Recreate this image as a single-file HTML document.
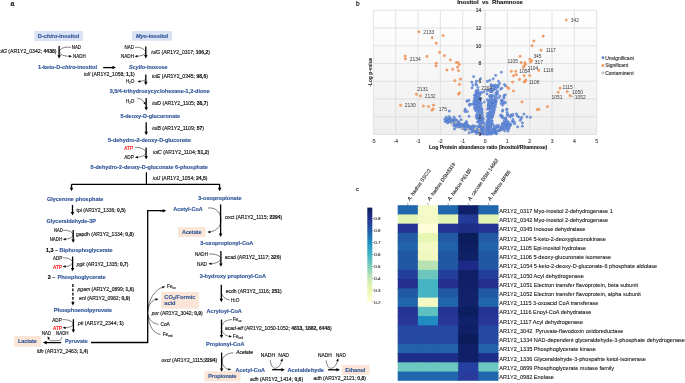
<!DOCTYPE html>
<html><head><meta charset="utf-8"><style>
html,body{margin:0;padding:0;background:#fff;width:685px;height:383px;overflow:hidden}
svg{display:block;font-family:"Liberation Sans",sans-serif;will-change:transform}
</style></head><body>
<svg width="685" height="383" viewBox="0 0 685 383" font-family="Liberation Sans, sans-serif"><text x="10.60" y="6.00" font-size="7.00" fill="#222" stroke="#222" stroke-width="0.14" text-anchor="start"><tspan font-weight="bold">a</tspan></text>
<rect x="34.40" y="31.00" width="48.50" height="10.00" fill="#dae3f3"/>
<rect x="132.00" y="31.00" width="40.00" height="9.70" fill="#dae3f3"/>
<rect x="14.20" y="336.00" width="26.90" height="10.80" fill="#fbe5d6"/>
<rect x="178.10" y="227.10" width="27.40" height="9.90" fill="#fbe5d6"/>
<rect x="161.20" y="291.80" width="37.60" height="16.90" fill="#fbe5d6"/>
<rect x="204.50" y="371.20" width="36.20" height="10.20" fill="#fbe5d6"/>
<rect x="341.80" y="364.80" width="27.70" height="10.00" fill="#fbe5d6"/>
<text x="37.80" y="37.85" font-size="5.60" fill="#2f5597" stroke="#2f5597" stroke-width="0.14" text-anchor="start" textLength="41.40" lengthAdjust="spacingAndGlyphs"><tspan font-weight="bold">D-</tspan><tspan font-weight="bold" font-style="italic">chiro</tspan><tspan font-weight="bold">-inositol</tspan></text>
<text x="136.00" y="37.80" font-size="5.45" fill="#2f5597" stroke="#2f5597" stroke-width="0.14" text-anchor="start" textLength="32.10" lengthAdjust="spacingAndGlyphs"><tspan font-weight="bold" font-style="italic">Myo</tspan><tspan font-weight="bold">-inositol</tspan></text>
<text x="38.10" y="69.22" font-size="5.52" fill="#2f5597" stroke="#2f5597" stroke-width="0.14" text-anchor="start" textLength="58.90" lengthAdjust="spacingAndGlyphs"><tspan font-weight="bold">1-keto-D-</tspan><tspan font-weight="bold" font-style="italic">chiro</tspan><tspan font-weight="bold">-inositol</tspan></text>
<text x="129.00" y="69.00" font-size="5.47" fill="#2f5597" stroke="#2f5597" stroke-width="0.14" text-anchor="start" textLength="38.60" lengthAdjust="spacingAndGlyphs"><tspan font-weight="bold" font-style="italic">Scyllo</tspan><tspan font-weight="bold">-inosose</tspan></text>
<text x="109.70" y="92.82" font-size="5.51" fill="#2f5597" stroke="#2f5597" stroke-width="0.14" text-anchor="start" textLength="100.10" lengthAdjust="spacingAndGlyphs"><tspan font-weight="bold">3,5/4-trihydroxycyclohexane-1,2-dione</tspan></text>
<text x="120.40" y="117.81" font-size="5.48" fill="#2f5597" stroke="#2f5597" stroke-width="0.14" text-anchor="start" textLength="59.70" lengthAdjust="spacingAndGlyphs"><tspan font-weight="bold">5-deoxy-D-glucuronate</tspan></text>
<text x="108.00" y="142.02" font-size="5.51" fill="#2f5597" stroke="#2f5597" stroke-width="0.14" text-anchor="start" textLength="83.00" lengthAdjust="spacingAndGlyphs"><tspan font-weight="bold">5-dehydro-2-deoxy-D-gluconate</tspan></text>
<text x="90.60" y="168.62" font-size="5.51" fill="#2f5597" stroke="#2f5597" stroke-width="0.14" text-anchor="start" textLength="117.30" lengthAdjust="spacingAndGlyphs"><tspan font-weight="bold">5-dehydro-2-deoxy-D-gluconate 6-phosphate</tspan></text>
<text x="46.90" y="200.52" font-size="5.53" fill="#2f5597" stroke="#2f5597" stroke-width="0.14" text-anchor="start" textLength="56.50" lengthAdjust="spacingAndGlyphs"><tspan font-weight="bold">Glycerone phosphate</tspan></text>
<text x="46.50" y="223.01" font-size="5.49" fill="#2f5597" stroke="#2f5597" stroke-width="0.14" text-anchor="start" textLength="49.40" lengthAdjust="spacingAndGlyphs"><tspan font-weight="bold">Glyceraldehyde-3P</tspan></text>
<text x="46.00" y="251.58" font-size="5.40" fill="#000" stroke="#000" stroke-width="0.14" text-anchor="start"><tspan font-weight="bold">1,3 –</tspan></text>
<text x="59.60" y="251.62" font-size="5.51" fill="#2f5597" stroke="#2f5597" stroke-width="0.14" text-anchor="start" textLength="53.00" lengthAdjust="spacingAndGlyphs"><tspan font-weight="bold">Biphosphoglycerate</tspan></text>
<text x="47.80" y="278.98" font-size="5.40" fill="#000" stroke="#000" stroke-width="0.14" text-anchor="start"><tspan font-weight="bold">3 –</tspan></text>
<text x="57.50" y="279.03" font-size="5.54" fill="#2f5597" stroke="#2f5597" stroke-width="0.14" text-anchor="start" textLength="48.00" lengthAdjust="spacingAndGlyphs"><tspan font-weight="bold">Phosphoglycerate</tspan></text>
<text x="53.80" y="311.83" font-size="5.55" fill="#2f5597" stroke="#2f5597" stroke-width="0.14" text-anchor="start" textLength="58.30" lengthAdjust="spacingAndGlyphs"><tspan font-weight="bold">Phosphoenolpyruvate</tspan></text>
<text x="17.90" y="343.39" font-size="5.43" fill="#2f5597" stroke="#2f5597" stroke-width="0.14" text-anchor="start" textLength="19.00" lengthAdjust="spacingAndGlyphs"><tspan font-weight="bold">Lactate</tspan></text>
<text x="64.90" y="343.29" font-size="5.42" fill="#2f5597" stroke="#2f5597" stroke-width="0.14" text-anchor="start" textLength="22.90" lengthAdjust="spacingAndGlyphs"><tspan font-weight="bold">Pyruvate</tspan></text>
<text x="173.20" y="210.91" font-size="5.47" fill="#2f5597" stroke="#2f5597" stroke-width="0.14" text-anchor="start" textLength="29.50" lengthAdjust="spacingAndGlyphs"><tspan font-weight="bold">Acetyl-CoA</tspan></text>
<text x="198.20" y="199.63" font-size="5.54" fill="#2f5597" stroke="#2f5597" stroke-width="0.14" text-anchor="start" textLength="43.40" lengthAdjust="spacingAndGlyphs"><tspan font-weight="bold">3-oxopropionate</tspan></text>
<text x="182.00" y="233.77" font-size="5.37" fill="#2f5597" stroke="#2f5597" stroke-width="0.14" text-anchor="start" textLength="19.40" lengthAdjust="spacingAndGlyphs"><tspan font-weight="bold">Acetate</tspan></text>
<text x="200.30" y="244.82" font-size="5.51" fill="#2f5597" stroke="#2f5597" stroke-width="0.14" text-anchor="start" textLength="53.00" lengthAdjust="spacingAndGlyphs"><tspan font-weight="bold">3-oxopropionyl-CoA</tspan></text>
<text x="199.70" y="278.22" font-size="5.52" fill="#2f5597" stroke="#2f5597" stroke-width="0.14" text-anchor="start" textLength="66.30" lengthAdjust="spacingAndGlyphs"><tspan font-weight="bold">3-hydroxy propionyl-CoA</tspan></text>
<text x="164.3" y="298.9" font-size="5.7" font-weight="bold" fill="#2f5597" stroke="#2f5597" stroke-width="0.12">CO<tspan font-size="3.8" dy="0.9">2</tspan><tspan dy="-0.9">/Formic</tspan></text>
<text x="164.30" y="305.15" font-size="5.60" fill="#2f5597" stroke="#2f5597" stroke-width="0.14" text-anchor="start"><tspan font-weight="bold">acid</tspan></text>
<text x="206.50" y="312.84" font-size="5.59" fill="#2f5597" stroke="#2f5597" stroke-width="0.14" text-anchor="start" textLength="35.40" lengthAdjust="spacingAndGlyphs"><tspan font-weight="bold">Acryloyl-CoA</tspan></text>
<text x="206.00" y="346.41" font-size="5.49" fill="#2f5597" stroke="#2f5597" stroke-width="0.14" text-anchor="start" textLength="38.40" lengthAdjust="spacingAndGlyphs"><tspan font-weight="bold">Propionyl-CoA</tspan></text>
<text x="208.20" y="378.19" font-size="5.44" fill="#2f5597" stroke="#2f5597" stroke-width="0.14" text-anchor="start" textLength="28.40" lengthAdjust="spacingAndGlyphs"><tspan font-weight="bold">Propionate</tspan></text>
<text x="235.60" y="371.60" font-size="5.45" fill="#2f5597" stroke="#2f5597" stroke-width="0.14" text-anchor="start" textLength="29.40" lengthAdjust="spacingAndGlyphs"><tspan font-weight="bold">Acetyl-CoA</tspan></text>
<text x="287.50" y="371.85" font-size="5.61" fill="#2f5597" stroke="#2f5597" stroke-width="0.14" text-anchor="start" textLength="36.50" lengthAdjust="spacingAndGlyphs"><tspan font-weight="bold">Acetaldehyde</tspan></text>
<text x="345.30" y="371.91" font-size="5.48" fill="#2f5597" stroke="#2f5597" stroke-width="0.14" text-anchor="start" textLength="20.10" lengthAdjust="spacingAndGlyphs"><tspan font-weight="bold">Ethanol</tspan></text>
<text x="-2.20" y="53.29" font-size="5.13" fill="#111" stroke="#111" stroke-width="0.14" text-anchor="start" textLength="58.80" lengthAdjust="spacingAndGlyphs"><tspan font-style="italic">iolG</tspan><tspan> (AR1Y2_0342; </tspan><tspan font-weight="bold">4438</tspan><tspan>)</tspan></text>
<text x="151.30" y="53.65" font-size="5.00" fill="#111" stroke="#111" stroke-width="0.14" text-anchor="start" textLength="58.70" lengthAdjust="spacingAndGlyphs"><tspan font-style="italic">iolG</tspan><tspan> (AR1Y2_0317; </tspan><tspan font-weight="bold">106,2</tspan><tspan>)</tspan></text>
<text x="83.90" y="76.26" font-size="5.03" fill="#111" stroke="#111" stroke-width="0.14" text-anchor="start" textLength="50.90" lengthAdjust="spacingAndGlyphs"><tspan font-style="italic">iolI</tspan><tspan> (AR1Y2_1058; </tspan><tspan font-weight="bold">1,1</tspan><tspan>)</tspan></text>
<text x="152.00" y="78.17" font-size="5.06" fill="#111" stroke="#111" stroke-width="0.14" text-anchor="start" textLength="56.00" lengthAdjust="spacingAndGlyphs"><tspan font-style="italic">iolE</tspan><tspan> (AR1Y2_0345; </tspan><tspan font-weight="bold">98,6</tspan><tspan>)</tspan></text>
<text x="152.30" y="104.57" font-size="5.07" fill="#111" stroke="#111" stroke-width="0.14" text-anchor="start" textLength="56.00" lengthAdjust="spacingAndGlyphs"><tspan font-style="italic">iolD</tspan><tspan> (AR1Y2_1105; </tspan><tspan font-weight="bold">38,7</tspan><tspan>)</tspan></text>
<text x="152.30" y="129.88" font-size="5.09" fill="#111" stroke="#111" stroke-width="0.14" text-anchor="start" textLength="51.70" lengthAdjust="spacingAndGlyphs"><tspan font-style="italic">iolB</tspan><tspan> (AR1Y2_1109; </tspan><tspan font-weight="bold">57</tspan><tspan>)</tspan></text>
<text x="153.00" y="153.88" font-size="5.09" fill="#111" stroke="#111" stroke-width="0.14" text-anchor="start" textLength="56.20" lengthAdjust="spacingAndGlyphs"><tspan font-style="italic">iolC</tspan><tspan> (AR1Y2_1104; </tspan><tspan font-weight="bold">51,2</tspan><tspan>)</tspan></text>
<text x="152.80" y="180.15" font-size="5.01" fill="#111" stroke="#111" stroke-width="0.14" text-anchor="start" textLength="54.60" lengthAdjust="spacingAndGlyphs"><tspan font-style="italic">iolJ</tspan><tspan> (AR1Y2_1054; </tspan><tspan font-weight="bold">24,5</tspan><tspan>)</tspan></text>
<text x="76.60" y="211.63" font-size="4.95" fill="#111" stroke="#111" stroke-width="0.14" text-anchor="start" textLength="49.00" lengthAdjust="spacingAndGlyphs"><tspan>tpi</tspan><tspan> (AR1Y2_1336; </tspan><tspan font-weight="bold">0,5</tspan><tspan>)</tspan></text>
<text x="76.00" y="236.05" font-size="4.99" fill="#111" stroke="#111" stroke-width="0.14" text-anchor="start" textLength="58.00" lengthAdjust="spacingAndGlyphs"><tspan>gapdh</tspan><tspan> (AR1Y2_1334; </tspan><tspan font-weight="bold">0,8</tspan><tspan>)</tspan></text>
<text x="76.80" y="266.43" font-size="4.95" fill="#111" stroke="#111" stroke-width="0.14" text-anchor="start" textLength="51.70" lengthAdjust="spacingAndGlyphs"><tspan font-style="italic">pgk</tspan><tspan> (AR1Y2_1335; </tspan><tspan font-weight="bold">0,7</tspan><tspan>)</tspan></text>
<text x="77.60" y="290.95" font-size="4.99" fill="#111" stroke="#111" stroke-width="0.14" text-anchor="start" textLength="56.60" lengthAdjust="spacingAndGlyphs"><tspan font-style="italic">pgam</tspan><tspan> (AR1Y2_0899; </tspan><tspan font-weight="bold">1,6</tspan><tspan>)</tspan></text>
<text x="79.10" y="299.85" font-size="5.01" fill="#111" stroke="#111" stroke-width="0.14" text-anchor="start" textLength="51.00" lengthAdjust="spacingAndGlyphs"><tspan font-style="italic">enl</tspan><tspan> (AR1Y2_0982; </tspan><tspan font-weight="bold">0,9</tspan><tspan>)</tspan></text>
<text x="78.10" y="324.66" font-size="5.04" fill="#111" stroke="#111" stroke-width="0.14" text-anchor="start" textLength="45.70" lengthAdjust="spacingAndGlyphs"><tspan font-style="italic">pk</tspan><tspan> (AR1Y2_2344; </tspan><tspan font-weight="bold">1</tspan><tspan>)</tspan></text>
<text x="36.90" y="352.66" font-size="5.04" fill="#111" stroke="#111" stroke-width="0.14" text-anchor="start" textLength="51.30" lengthAdjust="spacingAndGlyphs"><tspan font-style="italic">ldh</tspan><tspan> (AR1Y2_2463; </tspan><tspan font-weight="bold">1,4</tspan><tspan>)</tspan></text>
<text x="225.10" y="218.86" font-size="5.04" fill="#111" stroke="#111" stroke-width="0.14" text-anchor="start" textLength="57.20" lengthAdjust="spacingAndGlyphs"><tspan>oxct</tspan><tspan> (AR1Y2_1115; </tspan><tspan font-weight="bold">2294</tspan><tspan>)</tspan></text>
<text x="224.80" y="258.87" font-size="5.06" fill="#111" stroke="#111" stroke-width="0.14" text-anchor="start" textLength="56.40" lengthAdjust="spacingAndGlyphs"><tspan>acad</tspan><tspan> (AR1Y2_1117; </tspan><tspan font-weight="bold">320</tspan><tspan>)</tspan></text>
<text x="225.70" y="293.36" font-size="5.03" fill="#111" stroke="#111" stroke-width="0.14" text-anchor="start" textLength="56.00" lengthAdjust="spacingAndGlyphs"><tspan>ecdh</tspan><tspan> (AR1Y2_1116; </tspan><tspan font-weight="bold">251</tspan><tspan>)</tspan></text>
<text x="151.80" y="315.03" font-size="4.95" fill="#111" stroke="#111" stroke-width="0.14" text-anchor="start" textLength="50.90" lengthAdjust="spacingAndGlyphs"><tspan font-style="italic">por</tspan><tspan> (AR1Y2_3042; </tspan><tspan font-weight="bold">0,9</tspan><tspan>)</tspan></text>
<text x="224.90" y="330.05" font-size="4.99" fill="#111" stroke="#111" stroke-width="0.14" text-anchor="start" textLength="106.90" lengthAdjust="spacingAndGlyphs"><tspan font-style="italic">acad-etf</tspan><tspan> (AR1Y2_1050-1052; </tspan><tspan font-weight="bold">4813, 1882, 6448</tspan><tspan>)</tspan></text>
<text x="161.50" y="362.36" font-size="5.03" fill="#111" stroke="#111" stroke-width="0.14" text-anchor="start" textLength="55.70" lengthAdjust="spacingAndGlyphs"><tspan font-style="italic">oxct</tspan><tspan> (AR1Y2_1115;</tspan><tspan font-weight="bold">2294</tspan><tspan>)</tspan></text>
<text x="250.10" y="381.16" font-size="5.04" fill="#111" stroke="#111" stroke-width="0.14" text-anchor="start" textLength="53.00" lengthAdjust="spacingAndGlyphs"><tspan font-style="italic">adh</tspan><tspan> (AR1Y2_1414; </tspan><tspan font-weight="bold">0,6</tspan><tspan>)</tspan></text>
<text x="313.40" y="379.65" font-size="5.01" fill="#111" stroke="#111" stroke-width="0.14" text-anchor="start" textLength="52.60" lengthAdjust="spacingAndGlyphs"><tspan font-style="italic">adh</tspan><tspan> (AR1Y2_2121; </tspan><tspan font-weight="bold">0,8</tspan><tspan>)</tspan></text>
<text x="71.80" y="49.12" font-size="4.90" fill="#111" stroke="#111" stroke-width="0.14" text-anchor="start" textLength="9.20" lengthAdjust="spacingAndGlyphs"><tspan>NAD</tspan></text>
<text x="73.00" y="58.02" font-size="4.90" fill="#111" stroke="#111" stroke-width="0.14" text-anchor="start" textLength="12.60" lengthAdjust="spacingAndGlyphs"><tspan>NADH</tspan></text>
<text x="124.60" y="49.12" font-size="4.90" fill="#111" stroke="#111" stroke-width="0.14" text-anchor="start" textLength="9.40" lengthAdjust="spacingAndGlyphs"><tspan>NAD</tspan></text>
<text x="121.00" y="58.02" font-size="4.90" fill="#111" stroke="#111" stroke-width="0.14" text-anchor="start" textLength="13.00" lengthAdjust="spacingAndGlyphs"><tspan>NADH</tspan></text>
<text x="125.70" y="82.70" font-size="4.7" fill="#111" stroke="#111" stroke-width="0.12">H<tspan font-size="3.0" dy="0.9">2</tspan><tspan dy="-0.9">O</tspan></text>
<text x="125.80" y="102.80" font-size="4.7" fill="#111" stroke="#111" stroke-width="0.12">H<tspan font-size="3.0" dy="0.9">2</tspan><tspan dy="-0.9">O</tspan></text>
<text x="230.70" y="301.50" font-size="4.7" fill="#111" stroke="#111" stroke-width="0.12">H<tspan font-size="3.0" dy="0.9">2</tspan><tspan dy="-0.9">O</tspan></text>
<text x="124.20" y="149.72" font-size="4.90" fill="#ff0000" stroke="#ff0000" stroke-width="0.14" text-anchor="start" textLength="8.90" lengthAdjust="spacingAndGlyphs"><tspan>ATP</tspan></text>
<text x="124.20" y="158.62" font-size="4.90" fill="#111" stroke="#111" stroke-width="0.14" text-anchor="start" textLength="9.70" lengthAdjust="spacingAndGlyphs"><tspan>ADP</tspan></text>
<text x="54.10" y="232.12" font-size="4.90" fill="#111" stroke="#111" stroke-width="0.14" text-anchor="start" textLength="8.70" lengthAdjust="spacingAndGlyphs"><tspan>NAD</tspan></text>
<text x="49.70" y="240.91" font-size="4.90" fill="#111" stroke="#111" stroke-width="0.14" text-anchor="start" textLength="12.50" lengthAdjust="spacingAndGlyphs"><tspan>NADH</tspan></text>
<text x="53.00" y="260.11" font-size="4.90" fill="#111" stroke="#111" stroke-width="0.14" text-anchor="start" textLength="9.10" lengthAdjust="spacingAndGlyphs"><tspan>ADP</tspan></text>
<text x="53.00" y="268.91" font-size="4.90" fill="#ff0000" stroke="#ff0000" stroke-width="0.14" text-anchor="start" textLength="9.10" lengthAdjust="spacingAndGlyphs"><tspan>ATP</tspan></text>
<text x="52.20" y="321.81" font-size="4.90" fill="#111" stroke="#111" stroke-width="0.14" text-anchor="start" textLength="9.70" lengthAdjust="spacingAndGlyphs"><tspan>ADP</tspan></text>
<text x="53.00" y="329.81" font-size="4.90" fill="#ff0000" stroke="#ff0000" stroke-width="0.14" text-anchor="start" textLength="9.10" lengthAdjust="spacingAndGlyphs"><tspan>ATP</tspan></text>
<text x="41.90" y="335.11" font-size="4.90" fill="#111" stroke="#111" stroke-width="0.14" text-anchor="start" textLength="9.10" lengthAdjust="spacingAndGlyphs"><tspan>NAD</tspan></text>
<text x="56.00" y="335.11" font-size="4.90" fill="#111" stroke="#111" stroke-width="0.14" text-anchor="start" textLength="12.50" lengthAdjust="spacingAndGlyphs"><tspan>NADH</tspan></text>
<text x="195.00" y="255.81" font-size="4.90" fill="#111" stroke="#111" stroke-width="0.14" text-anchor="start" textLength="13.00" lengthAdjust="spacingAndGlyphs"><tspan>NADH</tspan></text>
<text x="197.00" y="265.51" font-size="4.90" fill="#111" stroke="#111" stroke-width="0.14" text-anchor="start" textLength="10.00" lengthAdjust="spacingAndGlyphs"><tspan>NAD</tspan></text>
<text x="232.70" y="321.30" font-size="4.8" fill="#111" stroke="#111" stroke-width="0.12">Fe<tspan font-size="2.9" dy="1">ox</tspan></text>
<text x="233.00" y="338.10" font-size="4.8" fill="#111" stroke="#111" stroke-width="0.12">Fe<tspan font-size="2.9" dy="1">red</tspan></text>
<text x="167.00" y="288.00" font-size="4.8" fill="#111" stroke="#111" stroke-width="0.12">Fe<tspan font-size="2.9" dy="1">ox</tspan></text>
<text x="162.70" y="336.10" font-size="4.8" fill="#111" stroke="#111" stroke-width="0.12">Fe<tspan font-size="2.9" dy="1">red</tspan></text>
<text x="160.40" y="325.91" font-size="4.90" fill="#111" stroke="#111" stroke-width="0.14" text-anchor="start" textLength="9.40" lengthAdjust="spacingAndGlyphs"><tspan>CoA</tspan></text>
<text x="236.20" y="354.37" font-size="4.92" fill="#111" stroke="#111" stroke-width="0.14" text-anchor="start" textLength="16.70" lengthAdjust="spacingAndGlyphs"><tspan font-style="italic">Acetate</tspan></text>
<text x="260.80" y="357.01" font-size="4.90" fill="#111" stroke="#111" stroke-width="0.14" text-anchor="start" textLength="14.20" lengthAdjust="spacingAndGlyphs"><tspan>NADH</tspan></text>
<text x="278.20" y="356.51" font-size="4.90" fill="#111" stroke="#111" stroke-width="0.14" text-anchor="start" textLength="10.90" lengthAdjust="spacingAndGlyphs"><tspan>NAD</tspan></text>
<text x="318.10" y="356.91" font-size="4.90" fill="#111" stroke="#111" stroke-width="0.14" text-anchor="start" textLength="13.70" lengthAdjust="spacingAndGlyphs"><tspan>NADH</tspan></text>
<text x="336.00" y="356.91" font-size="4.90" fill="#111" stroke="#111" stroke-width="0.14" text-anchor="start" textLength="9.80" lengthAdjust="spacingAndGlyphs"><tspan>NAD</tspan></text>
<line x1="59.10" y1="46.00" x2="59.10" y2="55.70" stroke="#000" stroke-width="1.30"/>
<path d="M57.35 55.20 L60.85 55.20 L59.10 58.60 Z" fill="#000"/>
<line x1="145.80" y1="46.50" x2="145.80" y2="55.50" stroke="#000" stroke-width="1.30"/>
<path d="M144.05 55.00 L147.55 55.00 L145.80 58.40 Z" fill="#000"/>
<line x1="145.80" y1="74.60" x2="145.80" y2="82.30" stroke="#000" stroke-width="1.30"/>
<path d="M144.05 81.80 L147.55 81.80 L145.80 85.20 Z" fill="#000"/>
<line x1="146.20" y1="98.10" x2="146.20" y2="107.70" stroke="#000" stroke-width="1.30"/>
<path d="M144.45 107.20 L147.95 107.20 L146.20 110.60 Z" fill="#000"/>
<line x1="146.20" y1="122.30" x2="146.20" y2="132.30" stroke="#000" stroke-width="1.30"/>
<path d="M144.45 131.80 L147.95 131.80 L146.20 135.20 Z" fill="#000"/>
<line x1="146.10" y1="147.50" x2="146.10" y2="156.60" stroke="#000" stroke-width="1.30"/>
<path d="M144.35 156.10 L147.85 156.10 L146.10 159.50 Z" fill="#000"/>
<line x1="146.40" y1="172.20" x2="146.40" y2="184.30" stroke="#000" stroke-width="1.20"/>
<line x1="71.50" y1="184.30" x2="219.60" y2="184.30" stroke="#000" stroke-width="1.30"/>
<line x1="71.50" y1="184.30" x2="71.50" y2="188.30" stroke="#000" stroke-width="1.30"/>
<path d="M69.75 187.80 L73.25 187.80 L71.50 191.20 Z" fill="#000"/>
<line x1="219.60" y1="184.30" x2="219.60" y2="188.30" stroke="#000" stroke-width="1.30"/>
<path d="M217.85 187.80 L221.35 187.80 L219.60 191.20 Z" fill="#000"/>
<line x1="103.20" y1="67.60" x2="113.00" y2="67.60" stroke="#000" stroke-width="1.30"/>
<path d="M112.50 65.85 L112.50 69.35 L115.90 67.60 Z" fill="#000"/>
<line x1="72.50" y1="205.10" x2="72.50" y2="212.50" stroke="#000" stroke-width="1.30"/>
<path d="M70.75 212.00 L74.25 212.00 L72.50 215.40 Z" fill="#000"/>
<line x1="73.20" y1="229.90" x2="73.20" y2="239.90" stroke="#000" stroke-width="1.30"/>
<path d="M71.45 239.40 L74.95 239.40 L73.20 242.80 Z" fill="#000"/>
<line x1="72.60" y1="256.50" x2="72.60" y2="268.40" stroke="#000" stroke-width="1.30"/>
<path d="M70.85 267.90 L74.35 267.90 L72.60 271.30 Z" fill="#000"/>
<line x1="72.90" y1="284.10" x2="72.90" y2="302.70" stroke="#000" stroke-width="1.30" stroke-dasharray="2.8,1.5"/>
<path d="M71.15 302.20 L74.65 302.20 L72.90 305.60 Z" fill="#000"/>
<line x1="73.40" y1="319.20" x2="73.40" y2="329.90" stroke="#000" stroke-width="1.30"/>
<path d="M71.65 329.40 L75.15 329.40 L73.40 332.80 Z" fill="#000"/>
<line x1="61.20" y1="342.60" x2="46.10" y2="342.60" stroke="#000" stroke-width="1.30"/>
<path d="M46.60 340.70 L46.60 344.50 L43.00 342.60 Z" fill="#000"/>
<path d="M91 342.5 L147.7 342.5 L147.7 210.7 L163 210.7" fill="none" stroke="#000" stroke-width="1.3"/>
<line x1="160.00" y1="210.70" x2="163.30" y2="210.70" stroke="#000" stroke-width="1.30"/>
<path d="M162.80 208.95 L162.80 212.45 L166.20 210.70 Z" fill="#000"/>
<line x1="220.60" y1="204.40" x2="220.60" y2="234.10" stroke="#000" stroke-width="1.30"/>
<path d="M218.85 233.60 L222.35 233.60 L220.60 237.00 Z" fill="#000"/>
<line x1="220.90" y1="251.00" x2="220.90" y2="263.90" stroke="#000" stroke-width="1.30"/>
<path d="M219.15 263.40 L222.65 263.40 L220.90 266.80 Z" fill="#000"/>
<line x1="221.30" y1="284.70" x2="221.30" y2="299.30" stroke="#000" stroke-width="1.30"/>
<path d="M219.55 298.80 L223.05 298.80 L221.30 302.20 Z" fill="#000"/>
<line x1="221.50" y1="319.60" x2="221.50" y2="335.40" stroke="#000" stroke-width="1.30"/>
<path d="M219.75 334.90 L223.25 334.90 L221.50 338.30 Z" fill="#000"/>
<line x1="221.60" y1="352.60" x2="221.60" y2="368.90" stroke="#000" stroke-width="1.30"/>
<path d="M219.85 368.40 L223.35 368.40 L221.60 371.80 Z" fill="#000"/>
<line x1="272.10" y1="369.70" x2="281.90" y2="369.70" stroke="#000" stroke-width="1.30"/>
<path d="M281.40 367.95 L281.40 371.45 L284.80 369.70 Z" fill="#000"/>
<line x1="328.00" y1="369.80" x2="337.00" y2="369.80" stroke="#000" stroke-width="1.30"/>
<path d="M336.50 368.05 L336.50 371.55 L339.90 369.80 Z" fill="#000"/>
<path d="M71 47.4 C63 46 58 50 59.5 53 C61 55.5 66 56.3 70.5 56.3" fill="none" stroke="#000" stroke-width="0.50"/>
<path d="M72.00 56.30 L69.00 57.50 L69.00 55.10 Z" fill="#000"/>
<path d="M135 47.4 C141 46.5 146 50 145.5 52.5 C145 55 140 56.3 136 56.3" fill="none" stroke="#000" stroke-width="0.50"/>
<path d="M134.50 56.30 L137.50 55.10 L137.50 57.50 Z" fill="#000"/>
<path d="M145.6 79.5 C143.5 81 141.5 81.3 139.2 81.4" fill="none" stroke="#000" stroke-width="0.50"/>
<path d="M137.40 81.50 L140.40 80.30 L140.40 82.70 Z" fill="#000"/>
<path d="M137.3 98.1 C141 98.5 143.8 101 145 103.4" fill="none" stroke="#000" stroke-width="0.50"/>
<path d="M145.70 105.10 L143.34 102.89 L145.52 101.87 Z" fill="#000"/>
<path d="M135.2 147.3 C141 147 145.8 150 145.8 152.5 C145.8 155.5 141 157.2 136.8 157.2" fill="none" stroke="#000" stroke-width="0.50"/>
<path d="M134.90 157.20 L137.90 156.00 L137.90 158.40 Z" fill="#000"/>
<path d="M63.2 230.3 C69.5 230 73 232.5 73 234.8 C73 237.5 69 239.2 64.6 239.2" fill="none" stroke="#000" stroke-width="0.50"/>
<path d="M62.80 239.20 L65.80 238.00 L65.80 240.40 Z" fill="#000"/>
<path d="M62.6 257.8 C68.5 257.5 72.5 260 72.5 262.2 C72.5 264.8 69 266.5 64.5 266.5" fill="none" stroke="#000" stroke-width="0.50"/>
<path d="M62.60 266.50 L65.60 265.30 L65.60 267.70 Z" fill="#000"/>
<path d="M62.6 319.6 C68.5 319.4 73.2 321.8 73.2 323.8 C73.2 326.2 69 327.8 64.5 327.8" fill="none" stroke="#000" stroke-width="0.50"/>
<path d="M62.60 327.80 L65.60 326.60 L65.60 329.00 Z" fill="#000"/>
<path d="M61.8 337.2 C61.6 339.6 60.5 340.7 57.5 340.7 L51.5 340.7 C49.8 340.7 48.9 339.8 48.6 338.8" fill="none" stroke="#000" stroke-width="0.50"/>
<path d="M47.60 336.20 L50.07 338.52 L47.79 339.59 Z" fill="#000"/>
<path d="M208 208 C216 207 221 213 221 220 C221 228 214 232 209 232" fill="none" stroke="#000" stroke-width="0.50"/>
<path d="M207.30 232.00 L210.30 230.80 L210.30 233.20 Z" fill="#000"/>
<path d="M209 254 C215 253.5 221 256 221 258.5 C221 261.5 215 263.8 210 263.8" fill="none" stroke="#000" stroke-width="0.50"/>
<path d="M208.50 263.80 L211.50 262.60 L211.50 265.00 Z" fill="#000"/>
<path d="M221.3 292 C222 296 225 299.5 229.5 299.8" fill="none" stroke="#000" stroke-width="0.50"/>
<path d="M232 319.6 C226 319.6 221.5 323 221.5 328 C221.5 333 226 336.4 230.5 336.4" fill="none" stroke="#000" stroke-width="0.50"/>
<path d="M232.00 336.40 L229.00 337.60 L229.00 335.20 Z" fill="#000"/>
<path d="M147.8 312 C148 300 155 289 163.5 287" fill="none" stroke="#000" stroke-width="0.50"/>
<path d="M165.30 286.60 L162.71 288.54 L162.09 286.22 Z" fill="#000"/>
<path d="M147.8 310 C149 304 152 300 156.8 299.2" fill="none" stroke="#000" stroke-width="0.50"/>
<path d="M158.50 299.00 L155.75 300.70 L155.34 298.34 Z" fill="#000"/>
<path d="M147.8 314 C149 320 153 324 158.5 324.2" fill="none" stroke="#000" stroke-width="0.50"/>
<path d="M147.8 315 C149 327 154 333.5 160.5 334.4" fill="none" stroke="#000" stroke-width="0.50"/>
<path d="M233.5 352.8 C227 353 222.2 356.5 222.2 361 C222.2 366 226 369.4 229.5 369.4" fill="none" stroke="#000" stroke-width="0.50"/>
<path d="M231.30 369.40 L228.30 370.60 L228.30 368.20 Z" fill="#000"/>
<path d="M270.3 360.2 C270.8 365 272.5 368.3 275 368.3 C278.5 368.3 281 364 281.8 360.3" fill="none" stroke="#000" stroke-width="0.50"/>
<path d="M282.40 358.20 L282.78 361.41 L280.46 360.79 Z" fill="#000"/>
<path d="M326.1 360.2 C326.6 365 328.3 368.3 330.8 368.3 C334.3 368.3 336.8 364 337.6 360.3" fill="none" stroke="#000" stroke-width="0.50"/>
<path d="M338.20 358.20 L338.58 361.41 L336.26 360.79 Z" fill="#000"/>
<defs><linearGradient id="pg" x1="0" y1="0" x2="0" y2="1"><stop offset="0" stop-color="#ffffff"/><stop offset="1" stop-color="#eeeeee"/></linearGradient></defs>
<rect x="373.40" y="10.30" width="223.30" height="124.20" fill="url(#pg)"/>
<line x1="373.40" y1="10.30" x2="373.40" y2="134.50" stroke="#d9d9d9" stroke-width="0.70"/>
<line x1="395.73" y1="10.30" x2="395.73" y2="134.50" stroke="#d9d9d9" stroke-width="0.70"/>
<line x1="418.06" y1="10.30" x2="418.06" y2="134.50" stroke="#d9d9d9" stroke-width="0.70"/>
<line x1="440.39" y1="10.30" x2="440.39" y2="134.50" stroke="#d9d9d9" stroke-width="0.70"/>
<line x1="462.72" y1="10.30" x2="462.72" y2="134.50" stroke="#d9d9d9" stroke-width="0.70"/>
<line x1="485.05" y1="10.30" x2="485.05" y2="134.50" stroke="#d9d9d9" stroke-width="0.70"/>
<line x1="507.38" y1="10.30" x2="507.38" y2="134.50" stroke="#d9d9d9" stroke-width="0.70"/>
<line x1="529.71" y1="10.30" x2="529.71" y2="134.50" stroke="#d9d9d9" stroke-width="0.70"/>
<line x1="552.04" y1="10.30" x2="552.04" y2="134.50" stroke="#d9d9d9" stroke-width="0.70"/>
<line x1="574.37" y1="10.30" x2="574.37" y2="134.50" stroke="#d9d9d9" stroke-width="0.70"/>
<line x1="596.70" y1="10.30" x2="596.70" y2="134.50" stroke="#d9d9d9" stroke-width="0.70"/>
<line x1="373.40" y1="134.50" x2="596.70" y2="134.50" stroke="#d9d9d9" stroke-width="0.70"/>
<line x1="373.40" y1="116.76" x2="596.70" y2="116.76" stroke="#d9d9d9" stroke-width="0.70"/>
<line x1="373.40" y1="99.01" x2="596.70" y2="99.01" stroke="#d9d9d9" stroke-width="0.70"/>
<line x1="373.40" y1="81.27" x2="596.70" y2="81.27" stroke="#d9d9d9" stroke-width="0.70"/>
<line x1="373.40" y1="63.53" x2="596.70" y2="63.53" stroke="#d9d9d9" stroke-width="0.70"/>
<line x1="373.40" y1="45.79" x2="596.70" y2="45.79" stroke="#d9d9d9" stroke-width="0.70"/>
<line x1="373.40" y1="28.04" x2="596.70" y2="28.04" stroke="#d9d9d9" stroke-width="0.70"/>
<line x1="373.40" y1="10.30" x2="596.70" y2="10.30" stroke="#d9d9d9" stroke-width="0.70"/>
<text x="457.20" y="3.67" font-size="6.03" fill="#222" stroke="#222" stroke-width="0.14" text-anchor="start" textLength="65.70" lengthAdjust="spacingAndGlyphs" xml:space="preserve"><tspan font-weight="bold">Inositol  vs  Rhamnose</tspan></text>
<text x="356.00" y="5.98" font-size="6.60" fill="#000" stroke="#000" stroke-width="0.14" text-anchor="start"><tspan>b</tspan></text>
<text x="373.40" y="142.80" font-size="5.00" fill="#444" stroke="#444" stroke-width="0.14" text-anchor="middle"><tspan>-5</tspan></text>
<text x="395.73" y="142.80" font-size="5.00" fill="#444" stroke="#444" stroke-width="0.14" text-anchor="middle"><tspan>-4</tspan></text>
<text x="418.06" y="142.80" font-size="5.00" fill="#444" stroke="#444" stroke-width="0.14" text-anchor="middle"><tspan>-3</tspan></text>
<text x="440.39" y="142.80" font-size="5.00" fill="#444" stroke="#444" stroke-width="0.14" text-anchor="middle"><tspan>-2</tspan></text>
<text x="462.72" y="142.80" font-size="5.00" fill="#444" stroke="#444" stroke-width="0.14" text-anchor="middle"><tspan>-1</tspan></text>
<text x="485.05" y="142.80" font-size="5.00" fill="#444" stroke="#444" stroke-width="0.14" text-anchor="middle"><tspan>0</tspan></text>
<text x="507.38" y="142.80" font-size="5.00" fill="#444" stroke="#444" stroke-width="0.14" text-anchor="middle"><tspan>1</tspan></text>
<text x="529.71" y="142.80" font-size="5.00" fill="#444" stroke="#444" stroke-width="0.14" text-anchor="middle"><tspan>2</tspan></text>
<text x="552.04" y="142.80" font-size="5.00" fill="#444" stroke="#444" stroke-width="0.14" text-anchor="middle"><tspan>3</tspan></text>
<text x="574.37" y="142.80" font-size="5.00" fill="#444" stroke="#444" stroke-width="0.14" text-anchor="middle"><tspan>4</tspan></text>
<text x="596.70" y="142.80" font-size="5.00" fill="#444" stroke="#444" stroke-width="0.14" text-anchor="middle"><tspan>5</tspan></text>
<text x="429.00" y="149.21" font-size="5.04" fill="#222" stroke="#222" stroke-width="0.14" text-anchor="start" textLength="118.20" lengthAdjust="spacingAndGlyphs"><tspan font-weight="bold">Log Protein abundance ratio (Inositol/Rhamnose)</tspan></text>
<text x="0" y="0" font-size="4.9" font-weight="bold" fill="#222" text-anchor="middle" transform="translate(372.3 72.2) rotate(-90)">-Log p-value</text>
<g fill="#7c9de0" stroke="#4a74c8" stroke-width="0.55"><circle cx="480.6" cy="129.2" r="1.1"/><circle cx="480.7" cy="117.9" r="1.1"/><circle cx="482.9" cy="118.8" r="1.1"/><circle cx="483.9" cy="131.6" r="1.1"/><circle cx="481.3" cy="109.4" r="1.1"/><circle cx="476.4" cy="115.2" r="1.1"/><circle cx="477.5" cy="122.0" r="1.1"/><circle cx="480.0" cy="108.5" r="1.1"/><circle cx="482.6" cy="130.2" r="1.1"/><circle cx="477.2" cy="93.1" r="1.1"/><circle cx="480.2" cy="122.7" r="1.1"/><circle cx="483.4" cy="131.9" r="1.1"/><circle cx="481.4" cy="121.1" r="1.1"/><circle cx="481.4" cy="120.3" r="1.1"/><circle cx="479.4" cy="101.1" r="1.1"/><circle cx="477.4" cy="118.2" r="1.1"/><circle cx="474.4" cy="95.3" r="1.1"/><circle cx="478.7" cy="121.4" r="1.1"/><circle cx="482.9" cy="119.3" r="1.1"/><circle cx="478.3" cy="111.2" r="1.1"/><circle cx="476.2" cy="95.8" r="1.1"/><circle cx="479.9" cy="116.6" r="1.1"/><circle cx="478.0" cy="103.8" r="1.1"/><circle cx="480.8" cy="131.8" r="1.1"/><circle cx="475.4" cy="104.5" r="1.1"/><circle cx="479.4" cy="122.3" r="1.1"/><circle cx="482.2" cy="120.1" r="1.1"/><circle cx="480.4" cy="131.9" r="1.1"/><circle cx="481.7" cy="126.4" r="1.1"/><circle cx="478.2" cy="90.4" r="1.1"/><circle cx="476.0" cy="107.8" r="1.1"/><circle cx="478.0" cy="95.1" r="1.1"/><circle cx="474.9" cy="107.7" r="1.1"/><circle cx="482.8" cy="128.5" r="1.1"/><circle cx="479.5" cy="119.4" r="1.1"/><circle cx="482.5" cy="133.5" r="1.1"/><circle cx="476.7" cy="117.0" r="1.1"/><circle cx="479.1" cy="118.5" r="1.1"/><circle cx="479.8" cy="132.0" r="1.1"/><circle cx="475.3" cy="103.1" r="1.1"/><circle cx="482.8" cy="121.9" r="1.1"/><circle cx="484.1" cy="131.8" r="1.1"/><circle cx="482.3" cy="128.9" r="1.1"/><circle cx="483.9" cy="133.6" r="1.1"/><circle cx="483.4" cy="123.0" r="1.1"/><circle cx="480.1" cy="100.1" r="1.1"/><circle cx="481.4" cy="123.4" r="1.1"/><circle cx="474.9" cy="108.8" r="1.1"/><circle cx="482.7" cy="119.4" r="1.1"/><circle cx="482.0" cy="123.6" r="1.1"/><circle cx="480.4" cy="92.7" r="1.1"/><circle cx="480.0" cy="99.0" r="1.1"/><circle cx="481.8" cy="132.8" r="1.1"/><circle cx="476.1" cy="103.0" r="1.1"/><circle cx="482.5" cy="122.9" r="1.1"/><circle cx="475.1" cy="99.1" r="1.1"/><circle cx="479.4" cy="127.1" r="1.1"/><circle cx="475.2" cy="102.8" r="1.1"/><circle cx="479.6" cy="101.6" r="1.1"/><circle cx="483.4" cy="123.2" r="1.1"/><circle cx="482.3" cy="125.4" r="1.1"/><circle cx="478.4" cy="105.6" r="1.1"/><circle cx="474.3" cy="104.2" r="1.1"/><circle cx="482.7" cy="127.2" r="1.1"/><circle cx="480.5" cy="127.6" r="1.1"/><circle cx="477.8" cy="102.7" r="1.1"/><circle cx="481.7" cy="110.2" r="1.1"/><circle cx="476.1" cy="107.0" r="1.1"/><circle cx="479.7" cy="98.3" r="1.1"/><circle cx="475.4" cy="96.1" r="1.1"/><circle cx="478.1" cy="97.1" r="1.1"/><circle cx="480.0" cy="101.4" r="1.1"/><circle cx="479.2" cy="129.2" r="1.1"/><circle cx="475.9" cy="92.3" r="1.1"/><circle cx="478.5" cy="100.6" r="1.1"/><circle cx="484.2" cy="129.8" r="1.1"/><circle cx="477.2" cy="100.6" r="1.1"/><circle cx="474.7" cy="97.7" r="1.1"/><circle cx="479.1" cy="93.8" r="1.1"/><circle cx="480.6" cy="126.6" r="1.1"/><circle cx="482.6" cy="121.3" r="1.1"/><circle cx="477.7" cy="96.4" r="1.1"/><circle cx="478.8" cy="107.1" r="1.1"/><circle cx="477.1" cy="98.6" r="1.1"/><circle cx="482.3" cy="133.1" r="1.1"/><circle cx="480.5" cy="133.5" r="1.1"/><circle cx="478.6" cy="119.8" r="1.1"/><circle cx="480.6" cy="124.1" r="1.1"/><circle cx="481.6" cy="110.7" r="1.1"/><circle cx="482.3" cy="126.3" r="1.1"/><circle cx="476.8" cy="98.7" r="1.1"/><circle cx="478.2" cy="103.5" r="1.1"/><circle cx="479.9" cy="118.8" r="1.1"/><circle cx="479.9" cy="120.4" r="1.1"/><circle cx="476.6" cy="106.0" r="1.1"/><circle cx="479.6" cy="103.8" r="1.1"/><circle cx="475.5" cy="106.0" r="1.1"/><circle cx="481.9" cy="130.1" r="1.1"/><circle cx="483.5" cy="126.6" r="1.1"/><circle cx="475.9" cy="110.7" r="1.1"/><circle cx="477.9" cy="112.6" r="1.1"/><circle cx="474.9" cy="107.8" r="1.1"/><circle cx="478.8" cy="105.7" r="1.1"/><circle cx="475.3" cy="104.6" r="1.1"/><circle cx="480.1" cy="121.0" r="1.1"/><circle cx="482.3" cy="127.9" r="1.1"/><circle cx="478.0" cy="87.5" r="1.1"/><circle cx="482.9" cy="133.1" r="1.1"/><circle cx="482.7" cy="118.6" r="1.1"/><circle cx="473.8" cy="102.1" r="1.1"/><circle cx="483.6" cy="125.8" r="1.1"/><circle cx="479.9" cy="95.0" r="1.1"/><circle cx="475.8" cy="106.9" r="1.1"/><circle cx="479.1" cy="129.2" r="1.1"/><circle cx="481.9" cy="113.1" r="1.1"/><circle cx="479.7" cy="113.5" r="1.1"/><circle cx="477.1" cy="106.1" r="1.1"/><circle cx="476.1" cy="90.5" r="1.1"/><circle cx="478.8" cy="108.4" r="1.1"/><circle cx="476.9" cy="117.4" r="1.1"/><circle cx="481.4" cy="129.8" r="1.1"/><circle cx="483.4" cy="130.4" r="1.1"/><circle cx="482.3" cy="127.7" r="1.1"/><circle cx="480.3" cy="111.4" r="1.1"/><circle cx="482.2" cy="128.4" r="1.1"/><circle cx="483.8" cy="126.3" r="1.1"/><circle cx="479.7" cy="99.3" r="1.1"/><circle cx="481.1" cy="106.3" r="1.1"/><circle cx="477.4" cy="97.7" r="1.1"/><circle cx="477.3" cy="97.1" r="1.1"/><circle cx="479.1" cy="104.9" r="1.1"/><circle cx="476.3" cy="101.2" r="1.1"/><circle cx="483.3" cy="123.4" r="1.1"/><circle cx="480.5" cy="131.5" r="1.1"/><circle cx="483.7" cy="128.8" r="1.1"/><circle cx="476.3" cy="103.0" r="1.1"/><circle cx="482.2" cy="126.5" r="1.1"/><circle cx="481.7" cy="129.0" r="1.1"/><circle cx="474.4" cy="105.5" r="1.1"/><circle cx="478.4" cy="126.5" r="1.1"/><circle cx="483.6" cy="123.2" r="1.1"/><circle cx="480.0" cy="119.7" r="1.1"/><circle cx="483.1" cy="118.8" r="1.1"/><circle cx="482.2" cy="131.0" r="1.1"/><circle cx="483.0" cy="133.0" r="1.1"/><circle cx="479.4" cy="116.5" r="1.1"/><circle cx="475.7" cy="100.6" r="1.1"/><circle cx="478.6" cy="97.0" r="1.1"/><circle cx="476.5" cy="92.4" r="1.1"/><circle cx="480.1" cy="132.3" r="1.1"/><circle cx="475.5" cy="100.3" r="1.1"/><circle cx="477.6" cy="92.1" r="1.1"/><circle cx="476.3" cy="109.2" r="1.1"/><circle cx="474.3" cy="99.7" r="1.1"/><circle cx="481.0" cy="113.3" r="1.1"/><circle cx="482.3" cy="129.7" r="1.1"/><circle cx="478.1" cy="109.1" r="1.1"/><circle cx="478.2" cy="115.3" r="1.1"/><circle cx="480.5" cy="133.5" r="1.1"/><circle cx="477.0" cy="98.7" r="1.1"/><circle cx="480.5" cy="131.7" r="1.1"/><circle cx="483.0" cy="131.4" r="1.1"/><circle cx="476.2" cy="93.7" r="1.1"/><circle cx="478.2" cy="98.5" r="1.1"/><circle cx="477.3" cy="113.6" r="1.1"/><circle cx="482.2" cy="114.8" r="1.1"/><circle cx="479.6" cy="126.2" r="1.1"/><circle cx="482.9" cy="117.0" r="1.1"/><circle cx="479.9" cy="125.7" r="1.1"/><circle cx="480.6" cy="113.8" r="1.1"/><circle cx="480.3" cy="120.0" r="1.1"/><circle cx="480.5" cy="107.5" r="1.1"/><circle cx="481.5" cy="103.7" r="1.1"/><circle cx="475.2" cy="109.6" r="1.1"/><circle cx="482.6" cy="125.7" r="1.1"/><circle cx="477.1" cy="93.8" r="1.1"/><circle cx="476.9" cy="118.3" r="1.1"/><circle cx="478.5" cy="109.6" r="1.1"/><circle cx="479.5" cy="101.2" r="1.1"/><circle cx="480.9" cy="98.4" r="1.1"/><circle cx="480.3" cy="119.2" r="1.1"/><circle cx="482.3" cy="129.5" r="1.1"/><circle cx="482.1" cy="109.0" r="1.1"/><circle cx="480.6" cy="102.7" r="1.1"/><circle cx="474.2" cy="101.3" r="1.1"/><circle cx="481.1" cy="122.7" r="1.1"/><circle cx="478.4" cy="99.8" r="1.1"/><circle cx="483.5" cy="125.6" r="1.1"/><circle cx="480.1" cy="109.2" r="1.1"/><circle cx="479.0" cy="94.6" r="1.1"/><circle cx="482.0" cy="128.1" r="1.1"/><circle cx="475.2" cy="103.2" r="1.1"/><circle cx="474.9" cy="106.9" r="1.1"/><circle cx="482.2" cy="112.5" r="1.1"/><circle cx="475.5" cy="97.9" r="1.1"/><circle cx="483.5" cy="125.2" r="1.1"/><circle cx="477.9" cy="91.8" r="1.1"/><circle cx="479.4" cy="124.9" r="1.1"/><circle cx="476.5" cy="94.8" r="1.1"/><circle cx="480.4" cy="117.3" r="1.1"/><circle cx="487.0" cy="127.8" r="1.1"/><circle cx="490.4" cy="96.5" r="1.1"/><circle cx="491.7" cy="102.5" r="1.1"/><circle cx="486.5" cy="126.9" r="1.1"/><circle cx="486.9" cy="130.0" r="1.1"/><circle cx="492.6" cy="115.5" r="1.1"/><circle cx="492.3" cy="95.3" r="1.1"/><circle cx="488.4" cy="121.4" r="1.1"/><circle cx="491.2" cy="124.4" r="1.1"/><circle cx="490.6" cy="117.5" r="1.1"/><circle cx="491.2" cy="91.6" r="1.1"/><circle cx="489.1" cy="120.7" r="1.1"/><circle cx="495.6" cy="101.0" r="1.1"/><circle cx="488.5" cy="131.8" r="1.1"/><circle cx="493.8" cy="96.2" r="1.1"/><circle cx="491.7" cy="120.9" r="1.1"/><circle cx="496.4" cy="101.0" r="1.1"/><circle cx="486.5" cy="129.4" r="1.1"/><circle cx="493.7" cy="112.2" r="1.1"/><circle cx="495.1" cy="98.6" r="1.1"/><circle cx="487.1" cy="116.1" r="1.1"/><circle cx="497.1" cy="92.0" r="1.1"/><circle cx="487.0" cy="123.6" r="1.1"/><circle cx="491.8" cy="113.5" r="1.1"/><circle cx="488.0" cy="130.6" r="1.1"/><circle cx="487.8" cy="121.0" r="1.1"/><circle cx="486.8" cy="132.4" r="1.1"/><circle cx="493.1" cy="103.8" r="1.1"/><circle cx="490.6" cy="96.2" r="1.1"/><circle cx="493.6" cy="103.8" r="1.1"/><circle cx="487.6" cy="132.1" r="1.1"/><circle cx="488.1" cy="120.1" r="1.1"/><circle cx="489.6" cy="104.8" r="1.1"/><circle cx="488.7" cy="122.5" r="1.1"/><circle cx="489.9" cy="126.8" r="1.1"/><circle cx="490.2" cy="96.7" r="1.1"/><circle cx="496.2" cy="93.6" r="1.1"/><circle cx="489.8" cy="126.0" r="1.1"/><circle cx="491.9" cy="104.0" r="1.1"/><circle cx="488.2" cy="126.0" r="1.1"/><circle cx="489.0" cy="104.1" r="1.1"/><circle cx="490.8" cy="126.3" r="1.1"/><circle cx="486.0" cy="131.2" r="1.1"/><circle cx="494.7" cy="105.6" r="1.1"/><circle cx="495.7" cy="102.5" r="1.1"/><circle cx="490.4" cy="127.1" r="1.1"/><circle cx="494.5" cy="85.8" r="1.1"/><circle cx="488.3" cy="121.4" r="1.1"/><circle cx="486.7" cy="132.6" r="1.1"/><circle cx="488.8" cy="103.9" r="1.1"/><circle cx="492.0" cy="91.5" r="1.1"/><circle cx="491.8" cy="100.7" r="1.1"/><circle cx="488.9" cy="118.4" r="1.1"/><circle cx="492.1" cy="91.1" r="1.1"/><circle cx="492.4" cy="85.7" r="1.1"/><circle cx="488.5" cy="100.0" r="1.1"/><circle cx="489.6" cy="130.8" r="1.1"/><circle cx="493.8" cy="110.2" r="1.1"/><circle cx="491.1" cy="124.5" r="1.1"/><circle cx="489.8" cy="124.8" r="1.1"/><circle cx="486.3" cy="124.4" r="1.1"/><circle cx="493.4" cy="101.7" r="1.1"/><circle cx="491.0" cy="85.3" r="1.1"/><circle cx="495.6" cy="103.9" r="1.1"/><circle cx="488.3" cy="125.2" r="1.1"/><circle cx="489.2" cy="104.7" r="1.1"/><circle cx="495.4" cy="99.7" r="1.1"/><circle cx="491.2" cy="98.1" r="1.1"/><circle cx="490.7" cy="121.8" r="1.1"/><circle cx="489.6" cy="126.8" r="1.1"/><circle cx="485.9" cy="130.8" r="1.1"/><circle cx="491.6" cy="122.9" r="1.1"/><circle cx="490.1" cy="102.4" r="1.1"/><circle cx="488.0" cy="129.8" r="1.1"/><circle cx="488.0" cy="119.2" r="1.1"/><circle cx="491.5" cy="114.0" r="1.1"/><circle cx="493.8" cy="100.9" r="1.1"/><circle cx="489.8" cy="107.4" r="1.1"/><circle cx="490.6" cy="121.5" r="1.1"/><circle cx="487.4" cy="125.3" r="1.1"/><circle cx="492.2" cy="106.1" r="1.1"/><circle cx="492.1" cy="120.8" r="1.1"/><circle cx="490.1" cy="125.7" r="1.1"/><circle cx="488.7" cy="102.8" r="1.1"/><circle cx="493.9" cy="108.0" r="1.1"/><circle cx="491.5" cy="86.3" r="1.1"/><circle cx="490.6" cy="127.0" r="1.1"/><circle cx="490.8" cy="104.7" r="1.1"/><circle cx="490.8" cy="95.8" r="1.1"/><circle cx="488.8" cy="102.0" r="1.1"/><circle cx="488.5" cy="114.0" r="1.1"/><circle cx="486.9" cy="128.5" r="1.1"/><circle cx="491.3" cy="114.6" r="1.1"/><circle cx="486.9" cy="132.4" r="1.1"/><circle cx="487.5" cy="127.1" r="1.1"/><circle cx="491.5" cy="108.7" r="1.1"/><circle cx="487.6" cy="129.7" r="1.1"/><circle cx="487.7" cy="113.4" r="1.1"/><circle cx="490.1" cy="111.8" r="1.1"/><circle cx="491.3" cy="123.4" r="1.1"/><circle cx="489.2" cy="115.6" r="1.1"/><circle cx="495.4" cy="106.7" r="1.1"/><circle cx="489.5" cy="126.8" r="1.1"/><circle cx="489.1" cy="132.5" r="1.1"/><circle cx="490.6" cy="108.0" r="1.1"/><circle cx="489.9" cy="96.0" r="1.1"/><circle cx="491.0" cy="116.1" r="1.1"/><circle cx="494.3" cy="88.2" r="1.1"/><circle cx="487.7" cy="117.5" r="1.1"/><circle cx="492.6" cy="117.0" r="1.1"/><circle cx="491.6" cy="117.9" r="1.1"/><circle cx="489.9" cy="91.2" r="1.1"/><circle cx="492.0" cy="102.3" r="1.1"/><circle cx="490.9" cy="104.8" r="1.1"/><circle cx="495.7" cy="98.2" r="1.1"/><circle cx="489.1" cy="109.0" r="1.1"/><circle cx="493.9" cy="107.2" r="1.1"/><circle cx="488.1" cy="126.1" r="1.1"/><circle cx="487.2" cy="121.2" r="1.1"/><circle cx="493.7" cy="110.9" r="1.1"/><circle cx="491.8" cy="115.8" r="1.1"/><circle cx="488.4" cy="107.4" r="1.1"/><circle cx="490.9" cy="116.1" r="1.1"/><circle cx="489.9" cy="120.1" r="1.1"/><circle cx="490.2" cy="112.9" r="1.1"/><circle cx="488.1" cy="132.0" r="1.1"/><circle cx="489.9" cy="125.6" r="1.1"/><circle cx="490.1" cy="96.0" r="1.1"/><circle cx="486.4" cy="129.5" r="1.1"/><circle cx="487.7" cy="130.0" r="1.1"/><circle cx="488.3" cy="131.5" r="1.1"/><circle cx="492.9" cy="110.6" r="1.1"/><circle cx="487.8" cy="131.1" r="1.1"/><circle cx="488.9" cy="104.0" r="1.1"/><circle cx="494.1" cy="102.5" r="1.1"/><circle cx="497.6" cy="91.1" r="1.1"/><circle cx="495.3" cy="103.9" r="1.1"/><circle cx="494.3" cy="108.9" r="1.1"/><circle cx="490.5" cy="122.1" r="1.1"/><circle cx="489.9" cy="105.7" r="1.1"/><circle cx="493.3" cy="89.9" r="1.1"/><circle cx="491.1" cy="91.5" r="1.1"/><circle cx="486.6" cy="123.1" r="1.1"/><circle cx="490.3" cy="127.9" r="1.1"/><circle cx="489.0" cy="105.7" r="1.1"/><circle cx="493.6" cy="89.1" r="1.1"/><circle cx="491.2" cy="121.9" r="1.1"/><circle cx="492.7" cy="115.2" r="1.1"/><circle cx="493.2" cy="102.8" r="1.1"/><circle cx="489.4" cy="108.7" r="1.1"/><circle cx="491.6" cy="97.7" r="1.1"/><circle cx="490.1" cy="95.7" r="1.1"/><circle cx="495.8" cy="86.6" r="1.1"/><circle cx="493.7" cy="113.4" r="1.1"/><circle cx="489.3" cy="112.7" r="1.1"/><circle cx="486.3" cy="131.7" r="1.1"/><circle cx="489.6" cy="119.7" r="1.1"/><circle cx="490.9" cy="89.6" r="1.1"/><circle cx="485.7" cy="132.1" r="1.1"/><circle cx="487.4" cy="129.5" r="1.1"/><circle cx="490.8" cy="115.1" r="1.1"/><circle cx="490.2" cy="113.9" r="1.1"/><circle cx="489.7" cy="104.5" r="1.1"/><circle cx="488.6" cy="129.8" r="1.1"/><circle cx="491.6" cy="100.2" r="1.1"/><circle cx="488.2" cy="132.4" r="1.1"/><circle cx="489.9" cy="122.2" r="1.1"/><circle cx="493.7" cy="104.5" r="1.1"/><circle cx="488.0" cy="105.5" r="1.1"/><circle cx="487.9" cy="120.5" r="1.1"/><circle cx="487.5" cy="109.2" r="1.1"/><circle cx="488.9" cy="104.3" r="1.1"/><circle cx="490.4" cy="114.4" r="1.1"/><circle cx="488.8" cy="108.2" r="1.1"/><circle cx="486.6" cy="123.7" r="1.1"/><circle cx="494.3" cy="100.2" r="1.1"/><circle cx="493.3" cy="107.3" r="1.1"/><circle cx="490.6" cy="110.4" r="1.1"/><circle cx="486.9" cy="129.6" r="1.1"/><circle cx="490.4" cy="122.6" r="1.1"/><circle cx="493.0" cy="107.2" r="1.1"/><circle cx="489.7" cy="116.0" r="1.1"/><circle cx="490.8" cy="96.9" r="1.1"/><circle cx="489.6" cy="103.6" r="1.1"/><circle cx="491.3" cy="84.7" r="1.1"/><circle cx="494.2" cy="110.3" r="1.1"/><circle cx="496.7" cy="93.8" r="1.1"/><circle cx="490.6" cy="125.5" r="1.1"/><circle cx="491.9" cy="111.8" r="1.1"/><circle cx="496.2" cy="96.1" r="1.1"/><circle cx="491.0" cy="106.9" r="1.1"/><circle cx="491.1" cy="97.6" r="1.1"/><circle cx="487.6" cy="113.9" r="1.1"/><circle cx="489.1" cy="89.9" r="1.1"/><circle cx="490.5" cy="104.7" r="1.1"/><circle cx="485.9" cy="131.9" r="1.1"/><circle cx="491.8" cy="113.6" r="1.1"/><circle cx="494.0" cy="87.4" r="1.1"/><circle cx="493.7" cy="108.1" r="1.1"/><circle cx="496.3" cy="87.4" r="1.1"/><circle cx="488.9" cy="102.0" r="1.1"/><circle cx="486.0" cy="129.3" r="1.1"/><circle cx="493.6" cy="100.5" r="1.1"/><circle cx="490.8" cy="98.4" r="1.1"/><circle cx="489.1" cy="129.8" r="1.1"/><circle cx="476.1" cy="94.6" r="1.1"/><circle cx="484.4" cy="102.0" r="1.1"/><circle cx="478.0" cy="95.5" r="1.1"/><circle cx="495.5" cy="93.4" r="1.1"/><circle cx="480.5" cy="78.6" r="1.1"/><circle cx="487.4" cy="81.4" r="1.1"/><circle cx="491.8" cy="101.8" r="1.1"/><circle cx="484.0" cy="91.7" r="1.1"/><circle cx="497.6" cy="93.9" r="1.1"/><circle cx="495.1" cy="89.2" r="1.1"/><circle cx="476.5" cy="81.1" r="1.1"/><circle cx="471.8" cy="82.2" r="1.1"/><circle cx="474.8" cy="102.5" r="1.1"/><circle cx="476.0" cy="83.6" r="1.1"/><circle cx="505.4" cy="102.5" r="1.1"/><circle cx="486.9" cy="90.4" r="1.1"/><circle cx="498.5" cy="98.0" r="1.1"/><circle cx="487.1" cy="93.9" r="1.1"/><circle cx="499.9" cy="96.1" r="1.1"/><circle cx="504.1" cy="95.5" r="1.1"/><circle cx="476.5" cy="85.2" r="1.1"/><circle cx="487.2" cy="99.8" r="1.1"/><circle cx="492.5" cy="100.6" r="1.1"/><circle cx="498.2" cy="85.2" r="1.1"/><circle cx="498.2" cy="87.0" r="1.1"/><circle cx="481.8" cy="92.6" r="1.1"/><circle cx="484.3" cy="130.6" r="1.1"/><circle cx="481.4" cy="130.6" r="1.1"/><circle cx="480.8" cy="133.6" r="1.1"/><circle cx="483.1" cy="130.5" r="1.1"/><circle cx="485.3" cy="132.8" r="1.1"/><circle cx="488.9" cy="133.5" r="1.1"/><circle cx="484.9" cy="132.1" r="1.1"/><circle cx="487.7" cy="131.2" r="1.1"/><circle cx="486.6" cy="133.0" r="1.1"/><circle cx="483.6" cy="133.8" r="1.1"/><circle cx="488.5" cy="131.6" r="1.1"/><circle cx="487.5" cy="133.7" r="1.1"/><circle cx="484.7" cy="131.1" r="1.1"/><circle cx="486.0" cy="133.9" r="1.1"/><circle cx="484.9" cy="130.6" r="1.1"/><circle cx="482.8" cy="133.7" r="1.1"/><circle cx="483.4" cy="131.4" r="1.1"/><circle cx="488.5" cy="133.8" r="1.1"/><circle cx="482.0" cy="133.4" r="1.1"/><circle cx="483.6" cy="132.2" r="1.1"/><circle cx="482.1" cy="133.0" r="1.1"/><circle cx="482.4" cy="130.2" r="1.1"/><circle cx="487.4" cy="134.0" r="1.1"/><circle cx="489.6" cy="134.0" r="1.1"/><circle cx="484.2" cy="130.1" r="1.1"/><circle cx="488.0" cy="131.2" r="1.1"/><circle cx="484.7" cy="133.6" r="1.1"/><circle cx="486.6" cy="134.0" r="1.1"/><circle cx="482.5" cy="132.8" r="1.1"/><circle cx="480.9" cy="132.7" r="1.1"/><circle cx="488.0" cy="131.4" r="1.1"/><circle cx="485.3" cy="131.7" r="1.1"/><circle cx="484.9" cy="133.9" r="1.1"/><circle cx="486.2" cy="132.7" r="1.1"/><circle cx="487.5" cy="130.5" r="1.1"/><circle cx="484.6" cy="132.0" r="1.1"/><circle cx="487.6" cy="132.6" r="1.1"/><circle cx="482.7" cy="131.3" r="1.1"/><circle cx="488.8" cy="131.1" r="1.1"/><circle cx="487.1" cy="130.7" r="1.1"/><circle cx="469.5" cy="104.3" r="1.1"/><circle cx="467.3" cy="111.6" r="1.1"/><circle cx="469.0" cy="116.4" r="1.1"/><circle cx="466.9" cy="101.2" r="1.1"/><circle cx="469.9" cy="104.6" r="1.1"/><circle cx="465.2" cy="109.1" r="1.1"/><circle cx="501.9" cy="101.1" r="1.1"/><circle cx="501.4" cy="100.0" r="1.1"/><circle cx="506.7" cy="109.6" r="1.1"/><circle cx="503.9" cy="98.0" r="1.1"/><circle cx="501.2" cy="103.6" r="1.1"/><circle cx="507.1" cy="112.5" r="1.1"/><circle cx="502.8" cy="110.1" r="1.1"/><circle cx="505.2" cy="94.9" r="1.1"/><circle cx="502.5" cy="111.2" r="1.1"/><circle cx="503.1" cy="102.6" r="1.1"/><circle cx="504.5" cy="103.2" r="1.1"/><circle cx="503.8" cy="97.0" r="1.1"/><circle cx="502.6" cy="105.2" r="1.1"/><circle cx="506.9" cy="109.1" r="1.1"/><circle cx="455.1" cy="125.1" r="1.1"/><circle cx="474.2" cy="127.2" r="1.1"/><circle cx="444.9" cy="119.2" r="1.1"/><circle cx="469.0" cy="126.9" r="1.1"/><circle cx="464.8" cy="123.9" r="1.1"/><circle cx="464.1" cy="125.5" r="1.1"/><circle cx="454.7" cy="123.2" r="1.1"/><circle cx="470.7" cy="126.8" r="1.1"/><circle cx="453.2" cy="119.6" r="1.1"/><circle cx="470.9" cy="129.0" r="1.1"/><circle cx="451.1" cy="122.1" r="1.1"/><circle cx="474.0" cy="128.4" r="1.1"/><circle cx="452.0" cy="120.3" r="1.1"/><circle cx="462.4" cy="127.7" r="1.1"/><circle cx="459.3" cy="123.2" r="1.1"/><circle cx="466.4" cy="121.5" r="1.1"/><circle cx="456.7" cy="121.5" r="1.1"/><circle cx="462.5" cy="128.4" r="1.1"/><circle cx="468.4" cy="128.2" r="1.1"/><circle cx="450.1" cy="121.0" r="1.1"/><circle cx="466.3" cy="125.6" r="1.1"/><circle cx="465.6" cy="127.5" r="1.1"/><circle cx="469.7" cy="128.8" r="1.1"/><circle cx="478.3" cy="130.2" r="1.1"/><circle cx="453.9" cy="122.3" r="1.1"/><circle cx="468.1" cy="125.7" r="1.1"/><circle cx="462.1" cy="127.5" r="1.1"/><circle cx="456.0" cy="121.6" r="1.1"/><circle cx="466.0" cy="122.9" r="1.1"/><circle cx="476.4" cy="131.7" r="1.1"/><circle cx="450.3" cy="117.9" r="1.1"/><circle cx="473.6" cy="131.0" r="1.1"/><circle cx="450.1" cy="120.9" r="1.1"/><circle cx="478.0" cy="130.9" r="1.1"/><circle cx="446.0" cy="120.0" r="1.1"/><circle cx="474.9" cy="130.8" r="1.1"/><circle cx="473.5" cy="128.7" r="1.1"/><circle cx="466.6" cy="123.2" r="1.1"/><circle cx="473.2" cy="126.1" r="1.1"/><circle cx="472.7" cy="130.7" r="1.1"/><circle cx="448.1" cy="122.6" r="1.1"/><circle cx="455.7" cy="124.8" r="1.1"/><circle cx="448.0" cy="119.0" r="1.1"/><circle cx="471.7" cy="132.0" r="1.1"/><circle cx="454.8" cy="125.5" r="1.1"/><circle cx="463.5" cy="126.1" r="1.1"/><circle cx="448.4" cy="121.5" r="1.1"/><circle cx="470.4" cy="128.5" r="1.1"/><circle cx="473.6" cy="129.8" r="1.1"/><circle cx="462.5" cy="125.1" r="1.1"/><circle cx="473.4" cy="131.3" r="1.1"/><circle cx="460.0" cy="124.1" r="1.1"/><circle cx="449.1" cy="116.6" r="1.1"/><circle cx="462.5" cy="124.9" r="1.1"/><circle cx="459.3" cy="125.8" r="1.1"/><circle cx="465.6" cy="129.4" r="1.1"/><circle cx="464.1" cy="124.9" r="1.1"/><circle cx="456.7" cy="123.2" r="1.1"/><circle cx="456.8" cy="120.4" r="1.1"/><circle cx="455.2" cy="122.0" r="1.1"/><circle cx="446.7" cy="122.1" r="1.1"/><circle cx="461.0" cy="119.7" r="1.1"/><circle cx="461.9" cy="124.5" r="1.1"/><circle cx="454.0" cy="122.4" r="1.1"/><circle cx="457.1" cy="125.2" r="1.1"/><circle cx="465.9" cy="123.0" r="1.1"/><circle cx="462.2" cy="128.3" r="1.1"/><circle cx="471.2" cy="128.8" r="1.1"/><circle cx="463.6" cy="127.7" r="1.1"/><circle cx="450.3" cy="119.6" r="1.1"/><circle cx="468.4" cy="126.3" r="1.1"/><circle cx="461.3" cy="126.4" r="1.1"/><circle cx="469.1" cy="132.8" r="1.1"/><circle cx="456.1" cy="123.0" r="1.1"/><circle cx="451.5" cy="122.0" r="1.1"/><circle cx="468.2" cy="125.7" r="1.1"/><circle cx="458.4" cy="125.9" r="1.1"/><circle cx="477.0" cy="132.8" r="1.1"/><circle cx="453.8" cy="120.2" r="1.1"/><circle cx="476.7" cy="131.8" r="1.1"/><circle cx="468.2" cy="125.9" r="1.1"/><circle cx="447.1" cy="119.5" r="1.1"/><circle cx="457.7" cy="125.3" r="1.1"/><circle cx="447.5" cy="122.6" r="1.1"/><circle cx="457.6" cy="125.4" r="1.1"/><circle cx="454.7" cy="124.2" r="1.1"/><circle cx="458.1" cy="124.1" r="1.1"/><circle cx="455.7" cy="123.9" r="1.1"/><circle cx="462.8" cy="125.1" r="1.1"/><circle cx="472.2" cy="129.5" r="1.1"/><circle cx="477.1" cy="129.7" r="1.1"/><circle cx="456.1" cy="127.1" r="1.1"/><circle cx="465.8" cy="124.8" r="1.1"/><circle cx="459.3" cy="127.0" r="1.1"/><circle cx="469.6" cy="128.3" r="1.1"/><circle cx="467.5" cy="125.0" r="1.1"/><circle cx="463.7" cy="128.4" r="1.1"/><circle cx="476.5" cy="133.6" r="1.1"/><circle cx="459.1" cy="122.9" r="1.1"/><circle cx="450.8" cy="120.7" r="1.1"/><circle cx="458.8" cy="121.9" r="1.1"/><circle cx="477.9" cy="131.6" r="1.1"/><circle cx="465.2" cy="129.9" r="1.1"/><circle cx="445.1" cy="121.4" r="1.1"/><circle cx="462.2" cy="125.8" r="1.1"/><circle cx="456.5" cy="122.5" r="1.1"/><circle cx="471.1" cy="128.0" r="1.1"/><circle cx="478.2" cy="130.4" r="1.1"/><circle cx="455.1" cy="118.8" r="1.1"/><circle cx="475.4" cy="126.2" r="1.1"/><circle cx="448.8" cy="120.0" r="1.1"/><circle cx="453.9" cy="121.8" r="1.1"/><circle cx="470.1" cy="128.0" r="1.1"/><circle cx="476.6" cy="131.4" r="1.1"/><circle cx="452.1" cy="122.3" r="1.1"/><circle cx="453.6" cy="125.7" r="1.1"/><circle cx="475.5" cy="131.9" r="1.1"/><circle cx="462.7" cy="127.4" r="1.1"/><circle cx="446.7" cy="119.6" r="1.1"/><circle cx="454.0" cy="117.0" r="1.1"/><circle cx="478.0" cy="127.8" r="1.1"/><circle cx="450.6" cy="120.6" r="1.1"/><circle cx="475.6" cy="131.0" r="1.1"/><circle cx="472.7" cy="125.8" r="1.1"/><circle cx="449.1" cy="121.0" r="1.1"/><circle cx="465.9" cy="126.3" r="1.1"/><circle cx="458.8" cy="126.5" r="1.1"/><circle cx="473.4" cy="127.9" r="1.1"/><circle cx="451.3" cy="122.9" r="1.1"/><circle cx="457.0" cy="121.0" r="1.1"/><circle cx="464.2" cy="128.3" r="1.1"/><circle cx="446.3" cy="117.1" r="1.1"/><circle cx="451.7" cy="122.7" r="1.1"/><circle cx="476.3" cy="130.7" r="1.1"/><circle cx="445.3" cy="120.0" r="1.1"/><circle cx="496.6" cy="133.7" r="1.1"/><circle cx="502.4" cy="123.6" r="1.1"/><circle cx="502.3" cy="128.4" r="1.1"/><circle cx="496.1" cy="133.4" r="1.1"/><circle cx="504.0" cy="125.2" r="1.1"/><circle cx="502.3" cy="124.6" r="1.1"/><circle cx="495.5" cy="132.5" r="1.1"/><circle cx="489.6" cy="132.3" r="1.1"/><circle cx="502.0" cy="125.6" r="1.1"/><circle cx="506.8" cy="125.8" r="1.1"/><circle cx="507.2" cy="126.6" r="1.1"/><circle cx="506.7" cy="124.3" r="1.1"/><circle cx="495.3" cy="132.3" r="1.1"/><circle cx="507.6" cy="124.8" r="1.1"/><circle cx="508.9" cy="128.7" r="1.1"/><circle cx="496.9" cy="127.2" r="1.1"/><circle cx="506.4" cy="125.0" r="1.1"/><circle cx="493.8" cy="130.7" r="1.1"/><circle cx="494.5" cy="133.0" r="1.1"/><circle cx="503.9" cy="128.7" r="1.1"/><circle cx="494.9" cy="130.0" r="1.1"/><circle cx="505.5" cy="126.1" r="1.1"/><circle cx="491.4" cy="133.9" r="1.1"/><circle cx="506.6" cy="126.1" r="1.1"/><circle cx="501.8" cy="129.6" r="1.1"/><circle cx="508.5" cy="123.7" r="1.1"/><circle cx="499.6" cy="130.5" r="1.1"/><circle cx="502.0" cy="127.3" r="1.1"/><circle cx="493.3" cy="129.5" r="1.1"/><circle cx="504.4" cy="128.9" r="1.1"/><circle cx="498.1" cy="127.1" r="1.1"/><circle cx="500.5" cy="128.0" r="1.1"/><circle cx="510.7" cy="124.4" r="1.1"/><circle cx="497.5" cy="127.0" r="1.1"/><circle cx="506.2" cy="124.5" r="1.1"/><circle cx="492.8" cy="132.7" r="1.1"/><circle cx="500.5" cy="129.6" r="1.1"/><circle cx="490.0" cy="125.3" r="1.1"/><circle cx="507.9" cy="124.5" r="1.1"/><circle cx="499.8" cy="130.2" r="1.1"/><circle cx="506.0" cy="127.2" r="1.1"/><circle cx="498.6" cy="125.5" r="1.1"/><circle cx="506.9" cy="127.5" r="1.1"/><circle cx="510.0" cy="125.2" r="1.1"/><circle cx="493.8" cy="130.0" r="1.1"/><circle cx="493.4" cy="130.2" r="1.1"/><circle cx="501.3" cy="127.8" r="1.1"/><circle cx="508.0" cy="131.1" r="1.1"/><circle cx="508.8" cy="124.2" r="1.1"/><circle cx="490.9" cy="133.5" r="1.1"/><circle cx="492.1" cy="132.5" r="1.1"/><circle cx="509.9" cy="125.4" r="1.1"/><circle cx="503.1" cy="124.7" r="1.1"/><circle cx="509.8" cy="126.3" r="1.1"/><circle cx="499.0" cy="130.8" r="1.1"/><circle cx="492.9" cy="124.3" r="1.1"/><circle cx="494.2" cy="132.0" r="1.1"/><circle cx="490.3" cy="131.9" r="1.1"/><circle cx="508.7" cy="123.6" r="1.1"/><circle cx="508.7" cy="125.3" r="1.1"/><circle cx="506.2" cy="127.1" r="1.1"/><circle cx="504.6" cy="130.9" r="1.1"/><circle cx="490.7" cy="133.8" r="1.1"/><circle cx="505.5" cy="123.6" r="1.1"/><circle cx="495.9" cy="131.2" r="1.1"/><circle cx="502.1" cy="127.8" r="1.1"/><circle cx="496.4" cy="130.8" r="1.1"/><circle cx="495.0" cy="128.5" r="1.1"/><circle cx="493.1" cy="129.1" r="1.1"/><circle cx="494.6" cy="128.3" r="1.1"/><circle cx="489.8" cy="129.4" r="1.1"/><circle cx="504.7" cy="126.8" r="1.1"/><circle cx="509.2" cy="124.9" r="1.1"/><circle cx="494.2" cy="126.4" r="1.1"/><circle cx="508.4" cy="127.5" r="1.1"/><circle cx="492.5" cy="132.1" r="1.1"/><circle cx="509.2" cy="125.1" r="1.1"/><circle cx="507.4" cy="127.8" r="1.1"/><circle cx="496.7" cy="131.4" r="1.1"/><circle cx="507.0" cy="129.3" r="1.1"/><circle cx="492.5" cy="130.6" r="1.1"/><circle cx="494.2" cy="127.2" r="1.1"/><circle cx="501.3" cy="126.9" r="1.1"/><circle cx="492.6" cy="129.9" r="1.1"/><circle cx="498.3" cy="130.4" r="1.1"/><circle cx="492.8" cy="131.6" r="1.1"/><circle cx="496.6" cy="125.5" r="1.1"/><circle cx="493.1" cy="132.8" r="1.1"/><circle cx="508.7" cy="125.5" r="1.1"/><circle cx="491.9" cy="130.5" r="1.1"/><circle cx="521.7" cy="117.3" r="1.1"/><circle cx="505.6" cy="119.2" r="1.1"/><circle cx="507.4" cy="121.3" r="1.1"/><circle cx="505.4" cy="120.3" r="1.1"/><circle cx="523.9" cy="114.1" r="1.1"/><circle cx="522.4" cy="122.9" r="1.1"/><circle cx="507.5" cy="115.1" r="1.1"/><circle cx="502.0" cy="116.8" r="1.1"/><circle cx="507.6" cy="114.3" r="1.1"/><circle cx="501.1" cy="116.0" r="1.1"/><circle cx="508.7" cy="122.5" r="1.1"/><circle cx="500.7" cy="115.7" r="1.1"/><circle cx="513.0" cy="122.0" r="1.1"/><circle cx="510.9" cy="115.0" r="1.1"/><circle cx="505.8" cy="118.3" r="1.1"/><circle cx="503.9" cy="122.1" r="1.1"/><circle cx="518.7" cy="116.9" r="1.1"/><circle cx="505.3" cy="123.1" r="1.1"/><circle cx="502.7" cy="117.9" r="1.1"/><circle cx="512.3" cy="121.2" r="1.1"/><circle cx="505.5" cy="117.9" r="1.1"/><circle cx="517.3" cy="115.9" r="1.1"/><circle cx="514.3" cy="121.9" r="1.1"/><circle cx="502.2" cy="116.7" r="1.1"/><circle cx="510.3" cy="116.8" r="1.1"/><circle cx="502.0" cy="115.9" r="1.1"/><circle cx="508.5" cy="115.6" r="1.1"/><circle cx="521.0" cy="119.0" r="1.1"/><circle cx="501.0" cy="115.0" r="1.1"/><circle cx="511.9" cy="115.3" r="1.1"/><circle cx="506.9" cy="122.0" r="1.1"/><circle cx="520.2" cy="120.3" r="1.1"/><circle cx="504.5" cy="120.2" r="1.1"/><circle cx="514.6" cy="123.8" r="1.1"/><circle cx="512.9" cy="119.5" r="1.1"/><circle cx="473.6" cy="76.6" r="1.1"/><circle cx="472.9" cy="85.1" r="1.1"/><circle cx="472.0" cy="87.9" r="1.1"/><circle cx="467.3" cy="101.0" r="1.1"/><circle cx="468.9" cy="100.4" r="1.1"/><circle cx="469.5" cy="105.4" r="1.1"/><circle cx="472.0" cy="104.2" r="1.1"/><circle cx="465.1" cy="111.1" r="1.1"/><circle cx="449.3" cy="111.1" r="1.1"/><circle cx="459.7" cy="116.4" r="1.1"/><circle cx="465.0" cy="111.4" r="1.1"/><circle cx="501.3" cy="72.2" r="1.1"/><circle cx="495.7" cy="75.4" r="1.1"/><circle cx="493.2" cy="78.8" r="1.1"/><circle cx="489.7" cy="80.4" r="1.1"/><circle cx="498.5" cy="81.3" r="1.1"/><circle cx="499.7" cy="83.5" r="1.1"/><circle cx="504.4" cy="84.5" r="1.1"/><circle cx="505.4" cy="85.7" r="1.1"/><circle cx="494.1" cy="85.7" r="1.1"/><circle cx="495.7" cy="85.1" r="1.1"/><circle cx="501.9" cy="88.2" r="1.1"/><circle cx="500.7" cy="89.2" r="1.1"/><circle cx="495.7" cy="88.5" r="1.1"/><circle cx="501.9" cy="101.0" r="1.1"/><circle cx="503.5" cy="101.4" r="1.1"/><circle cx="527.0" cy="116.8" r="1.1"/><circle cx="530.5" cy="117.3" r="1.1"/><circle cx="522.3" cy="126.2" r="1.1"/><circle cx="517.6" cy="126.9" r="1.1"/><circle cx="516.4" cy="113.8" r="1.1"/><circle cx="512.3" cy="115.9" r="1.1"/><circle cx="454.4" cy="129.0" r="1.1"/><circle cx="512.9" cy="114.5" r="1.1"/></g>
<g fill="#b4b4b4"><circle cx="452.0" cy="123.2" r="1.25"/><circle cx="455.9" cy="122.2" r="1.25"/><circle cx="462.2" cy="128.5" r="1.25"/><circle cx="467.9" cy="129.6" r="1.25"/><circle cx="474.9" cy="129.0" r="1.25"/><circle cx="479.0" cy="129.0" r="1.25"/><circle cx="482.6" cy="125.0" r="1.25"/><circle cx="479.6" cy="131.4" r="1.25"/></g>
<g fill="#f4a77c" stroke="#ed7d31" stroke-width="0.55"><circle cx="418.9" cy="31.8" r="1.1"/><circle cx="432.1" cy="37.6" r="1.1"/><circle cx="443.2" cy="35.5" r="1.1"/><circle cx="436.3" cy="43.2" r="1.1"/><circle cx="439.6" cy="52.3" r="1.1"/><circle cx="427.0" cy="56.4" r="1.1"/><circle cx="444.4" cy="55.7" r="1.1"/><circle cx="405.1" cy="56.1" r="1.1"/><circle cx="405.4" cy="58.9" r="1.1"/><circle cx="450.4" cy="60.0" r="1.1"/><circle cx="436.3" cy="63.2" r="1.1"/><circle cx="436.0" cy="65.9" r="1.1"/><circle cx="456.3" cy="62.5" r="1.1"/><circle cx="458.1" cy="62.5" r="1.1"/><circle cx="459.3" cy="64.7" r="1.1"/><circle cx="457.6" cy="67.2" r="1.1"/><circle cx="452.6" cy="69.3" r="1.1"/><circle cx="446.9" cy="70.0" r="1.1"/><circle cx="458.5" cy="70.7" r="1.1"/><circle cx="460.4" cy="79.1" r="1.1"/><circle cx="454.8" cy="80.7" r="1.1"/><circle cx="459.5" cy="84.4" r="1.1"/><circle cx="459.5" cy="92.9" r="1.1"/><circle cx="458.5" cy="94.2" r="1.1"/><circle cx="416.4" cy="94.3" r="1.1"/><circle cx="420.5" cy="95.9" r="1.1"/><circle cx="400.6" cy="105.3" r="1.1"/><circle cx="423.4" cy="106.1" r="1.1"/><circle cx="428.5" cy="106.5" r="1.1"/><circle cx="433.6" cy="105.1" r="1.1"/><circle cx="433.1" cy="108.9" r="1.1"/><circle cx="432.0" cy="110.2" r="1.1"/><circle cx="566.3" cy="20.0" r="1.1"/><circle cx="543.2" cy="36.2" r="1.1"/><circle cx="533.8" cy="41.0" r="1.1"/><circle cx="532.1" cy="45.7" r="1.1"/><circle cx="541.0" cy="50.2" r="1.1"/><circle cx="520.1" cy="56.3" r="1.1"/><circle cx="521.0" cy="62.5" r="1.1"/><circle cx="529.8" cy="59.2" r="1.1"/><circle cx="531.7" cy="60.7" r="1.1"/><circle cx="530.4" cy="62.1" r="1.1"/><circle cx="524.8" cy="62.6" r="1.1"/><circle cx="525.5" cy="64.3" r="1.1"/><circle cx="524.0" cy="66.0" r="1.1"/><circle cx="523.4" cy="67.5" r="1.1"/><circle cx="511.3" cy="71.3" r="1.1"/><circle cx="515.7" cy="71.3" r="1.1"/><circle cx="513.5" cy="75.7" r="1.1"/><circle cx="516.3" cy="74.7" r="1.1"/><circle cx="524.2" cy="75.7" r="1.1"/><circle cx="529.7" cy="75.6" r="1.1"/><circle cx="538.7" cy="70.4" r="1.1"/><circle cx="519.5" cy="79.4" r="1.1"/><circle cx="512.6" cy="82.0" r="1.1"/><circle cx="524.2" cy="82.0" r="1.1"/><circle cx="525.4" cy="81.0" r="1.1"/><circle cx="525.7" cy="80.1" r="1.1"/><circle cx="507.6" cy="87.3" r="1.1"/><circle cx="508.8" cy="88.5" r="1.1"/><circle cx="513.5" cy="91.0" r="1.1"/><circle cx="522.0" cy="101.9" r="1.1"/><circle cx="537.3" cy="109.5" r="1.1"/><circle cx="538.9" cy="109.4" r="1.1"/><circle cx="547.5" cy="106.7" r="1.1"/><circle cx="560.1" cy="88.2" r="1.1"/><circle cx="558.2" cy="92.3" r="1.1"/><circle cx="567.3" cy="91.6" r="1.1"/><circle cx="570.1" cy="95.7" r="1.1"/></g>
<line x1="485.05" y1="10.30" x2="485.05" y2="134.50" stroke="#d0d0d0" stroke-width="0.80" stroke-opacity="0.6"/>
<text x="481.30" y="136.30" font-size="5.00" fill="#333" stroke="#333" stroke-width="0.14" text-anchor="end"><tspan>0</tspan></text>
<text x="481.30" y="118.56" font-size="5.00" fill="#333" stroke="#333" stroke-width="0.14" text-anchor="end"><tspan>2</tspan></text>
<text x="481.30" y="100.81" font-size="5.00" fill="#333" stroke="#333" stroke-width="0.14" text-anchor="end"><tspan>4</tspan></text>
<text x="481.30" y="83.07" font-size="5.00" fill="#333" stroke="#333" stroke-width="0.14" text-anchor="end"><tspan>6</tspan></text>
<text x="481.30" y="65.33" font-size="5.00" fill="#333" stroke="#333" stroke-width="0.14" text-anchor="end"><tspan>8</tspan></text>
<text x="481.30" y="47.59" font-size="5.00" fill="#333" stroke="#333" stroke-width="0.14" text-anchor="end"><tspan>10</tspan></text>
<text x="481.30" y="29.84" font-size="5.00" fill="#333" stroke="#333" stroke-width="0.14" text-anchor="end"><tspan>12</tspan></text>
<text x="481.30" y="12.10" font-size="5.00" fill="#333" stroke="#333" stroke-width="0.14" text-anchor="end"><tspan>14</tspan></text>
<text x="423.30" y="33.56" font-size="4.9" fill="#3a3a3a">2133</text>
<text x="409.80" y="60.96" font-size="4.9" fill="#3a3a3a">2134</text>
<text x="417.30" y="91.26" font-size="4.9" fill="#3a3a3a">2131</text>
<text x="424.70" y="97.76" font-size="4.9" fill="#3a3a3a">2132</text>
<text x="404.80" y="106.96" font-size="4.9" fill="#3a3a3a">2130</text>
<text x="438.80" y="110.76" font-size="4.9" fill="#3a3a3a">175</text>
<text x="481.30" y="89.66" font-size="4.9" fill="#3a3a3a">2204</text>
<text x="570.70" y="21.76" font-size="4.9" fill="#3a3a3a">342</text>
<text x="545.70" y="52.06" font-size="4.9" fill="#3a3a3a">1117</text>
<text x="533.40" y="58.06" font-size="4.9" fill="#3a3a3a">345</text>
<text x="507.40" y="62.56" font-size="4.9" fill="#3a3a3a">1105</text>
<text x="534.70" y="63.76" font-size="4.9" fill="#3a3a3a">317</text>
<text x="527.80" y="69.56" font-size="4.9" fill="#3a3a3a">1104</text>
<text x="543.30" y="72.36" font-size="4.9" fill="#3a3a3a">1116</text>
<text x="519.20" y="73.06" font-size="4.9" fill="#3a3a3a">1054</text>
<text x="528.90" y="84.36" font-size="4.9" fill="#3a3a3a">1106</text>
<text x="562.60" y="89.06" font-size="4.9" fill="#3a3a3a">1115</text>
<text x="572.00" y="93.76" font-size="4.9" fill="#3a3a3a">1050</text>
<text x="551.60" y="99.06" font-size="4.9" fill="#3a3a3a">1051</text>
<text x="574.80" y="99.36" font-size="4.9" fill="#3a3a3a">1052</text>
<line x1="570.80" y1="95.90" x2="574.00" y2="97.30" stroke="#555" stroke-width="0.30"/>
<circle cx="602.9" cy="57.7" r="1.2" fill="#7c9de0" stroke="#4472c4" stroke-width="0.5"/>
<text x="605.20" y="59.50" font-size="5.00" fill="#333" stroke="#333" stroke-width="0.14" text-anchor="start"><tspan>Unsignificant</tspan></text>
<circle cx="602.9" cy="65.4" r="1.2" fill="#f4a77c" stroke="#ed7d31" stroke-width="0.5"/>
<text x="605.20" y="67.15" font-size="5.00" fill="#333" stroke="#333" stroke-width="0.14" text-anchor="start"><tspan>Significant</tspan></text>
<circle cx="602.9" cy="73.0" r="1.2" fill="#cccccc" stroke="#b4b4b4" stroke-width="0.5"/>
<text x="605.20" y="74.80" font-size="5.00" fill="#333" stroke="#333" stroke-width="0.14" text-anchor="start"><tspan>Contaminent</tspan></text>
<text x="356.00" y="190.70" font-size="6.00" fill="#222" stroke="#222" stroke-width="0.14" text-anchor="start"><tspan>c</tspan></text>
<defs><linearGradient id="cb" x1="0" y1="0" x2="0" y2="1"><stop offset="0.000" stop-color="#081d58"/><stop offset="0.125" stop-color="#253494"/><stop offset="0.250" stop-color="#225ea8"/><stop offset="0.375" stop-color="#1d91c0"/><stop offset="0.500" stop-color="#41b6c4"/><stop offset="0.625" stop-color="#7fcdbb"/><stop offset="0.750" stop-color="#c7e9b4"/><stop offset="0.875" stop-color="#edf8b1"/><stop offset="1.000" stop-color="#ffffd9"/></linearGradient></defs>
<rect x="367.30" y="207.60" width="5.00" height="94.40" fill="url(#cb)"/>
<line x1="372.30" y1="218.70" x2="373.80" y2="218.70" stroke="#333" stroke-width="0.40"/>
<text x="374.30" y="220.28" font-size="4.40" fill="#333" stroke="#333" stroke-width="0.14" text-anchor="start"><tspan>0.9</tspan></text>
<line x1="372.30" y1="230.61" x2="373.80" y2="230.61" stroke="#333" stroke-width="0.40"/>
<text x="374.30" y="232.19" font-size="4.40" fill="#333" stroke="#333" stroke-width="0.14" text-anchor="start"><tspan>0.8</tspan></text>
<line x1="372.30" y1="242.52" x2="373.80" y2="242.52" stroke="#333" stroke-width="0.40"/>
<text x="374.30" y="244.10" font-size="4.40" fill="#333" stroke="#333" stroke-width="0.14" text-anchor="start"><tspan>0.7</tspan></text>
<line x1="372.30" y1="254.43" x2="373.80" y2="254.43" stroke="#333" stroke-width="0.40"/>
<text x="374.30" y="256.01" font-size="4.40" fill="#333" stroke="#333" stroke-width="0.14" text-anchor="start"><tspan>0.6</tspan></text>
<line x1="372.30" y1="266.34" x2="373.80" y2="266.34" stroke="#333" stroke-width="0.40"/>
<text x="374.30" y="267.92" font-size="4.40" fill="#333" stroke="#333" stroke-width="0.14" text-anchor="start"><tspan>0.5</tspan></text>
<line x1="372.30" y1="278.25" x2="373.80" y2="278.25" stroke="#333" stroke-width="0.40"/>
<text x="374.30" y="279.83" font-size="4.40" fill="#333" stroke="#333" stroke-width="0.14" text-anchor="start"><tspan>0.4</tspan></text>
<line x1="372.30" y1="290.16" x2="373.80" y2="290.16" stroke="#333" stroke-width="0.40"/>
<text x="374.30" y="291.74" font-size="4.40" fill="#333" stroke="#333" stroke-width="0.14" text-anchor="start"><tspan>0.3</tspan></text>
<line x1="372.30" y1="302.07" x2="373.80" y2="302.07" stroke="#333" stroke-width="0.40"/>
<text x="374.30" y="303.65" font-size="4.40" fill="#333" stroke="#333" stroke-width="0.14" text-anchor="start"><tspan>0.2</tspan></text>
<rect x="397.70" y="205.20" width="21.16" height="10.24" fill="#2167ad"/>
<rect x="417.86" y="205.20" width="21.16" height="10.24" fill="#f4fac8"/>
<rect x="438.02" y="205.20" width="21.16" height="10.24" fill="#2167ad"/>
<rect x="458.18" y="205.20" width="21.16" height="10.24" fill="#0f1f6a"/>
<rect x="478.34" y="205.20" width="20.16" height="10.24" fill="#2167ad"/>
<rect x="397.70" y="214.44" width="21.16" height="10.24" fill="#e3f4b5"/>
<rect x="417.86" y="214.44" width="21.16" height="10.24" fill="#f3f9c6"/>
<rect x="438.02" y="214.44" width="21.16" height="10.24" fill="#e3f4b5"/>
<rect x="458.18" y="214.44" width="21.16" height="10.24" fill="#243b98"/>
<rect x="478.34" y="214.44" width="20.16" height="10.24" fill="#e3f4b5"/>
<rect x="397.70" y="223.68" width="21.16" height="10.24" fill="#253494"/>
<rect x="417.86" y="223.68" width="21.16" height="10.24" fill="#fdfed8"/>
<rect x="438.02" y="223.68" width="21.16" height="10.24" fill="#253494"/>
<rect x="458.18" y="223.68" width="21.16" height="10.24" fill="#1e2d85"/>
<rect x="478.34" y="223.68" width="20.16" height="10.24" fill="#253494"/>
<rect x="397.70" y="232.93" width="21.16" height="10.24" fill="#2159a4"/>
<rect x="417.86" y="232.93" width="21.16" height="10.24" fill="#e8f6b4"/>
<rect x="438.02" y="232.93" width="21.16" height="10.24" fill="#2159a4"/>
<rect x="458.18" y="232.93" width="21.16" height="10.24" fill="#0b1d5a"/>
<rect x="478.34" y="232.93" width="20.16" height="10.24" fill="#2159a4"/>
<rect x="397.70" y="242.17" width="21.16" height="10.24" fill="#2163aa"/>
<rect x="417.86" y="242.17" width="21.16" height="10.24" fill="#f2f9c4"/>
<rect x="438.02" y="242.17" width="21.16" height="10.24" fill="#2163aa"/>
<rect x="458.18" y="242.17" width="21.16" height="10.24" fill="#0d1f62"/>
<rect x="478.34" y="242.17" width="20.16" height="10.24" fill="#2163aa"/>
<rect x="397.70" y="251.41" width="21.16" height="10.24" fill="#2157a3"/>
<rect x="417.86" y="251.41" width="21.16" height="10.24" fill="#f0f8c0"/>
<rect x="438.02" y="251.41" width="21.16" height="10.24" fill="#2157a3"/>
<rect x="458.18" y="251.41" width="21.16" height="10.24" fill="#0e2066"/>
<rect x="478.34" y="251.41" width="20.16" height="10.24" fill="#2157a3"/>
<rect x="397.70" y="260.65" width="21.16" height="10.24" fill="#2157a3"/>
<rect x="417.86" y="260.65" width="21.16" height="10.24" fill="#b8e2b4"/>
<rect x="438.02" y="260.65" width="21.16" height="10.24" fill="#2157a3"/>
<rect x="458.18" y="260.65" width="21.16" height="10.24" fill="#1e2a88"/>
<rect x="478.34" y="260.65" width="20.16" height="10.24" fill="#2157a3"/>
<rect x="397.70" y="269.89" width="21.16" height="10.24" fill="#243f9a"/>
<rect x="417.86" y="269.89" width="21.16" height="10.24" fill="#6cc6be"/>
<rect x="438.02" y="269.89" width="21.16" height="10.24" fill="#243f9a"/>
<rect x="458.18" y="269.89" width="21.16" height="10.24" fill="#0f2068"/>
<rect x="478.34" y="269.89" width="20.16" height="10.24" fill="#243f9a"/>
<rect x="397.70" y="279.14" width="21.16" height="10.24" fill="#222f8c"/>
<rect x="417.86" y="279.14" width="21.16" height="10.24" fill="#45b5c4"/>
<rect x="438.02" y="279.14" width="21.16" height="10.24" fill="#222f8c"/>
<rect x="458.18" y="279.14" width="21.16" height="10.24" fill="#0f2068"/>
<rect x="478.34" y="279.14" width="20.16" height="10.24" fill="#222f8c"/>
<rect x="397.70" y="288.38" width="21.16" height="10.24" fill="#2159a4"/>
<rect x="417.86" y="288.38" width="21.16" height="10.24" fill="#45b5c4"/>
<rect x="438.02" y="288.38" width="21.16" height="10.24" fill="#2159a4"/>
<rect x="458.18" y="288.38" width="21.16" height="10.24" fill="#11216a"/>
<rect x="478.34" y="288.38" width="20.16" height="10.24" fill="#2159a4"/>
<rect x="397.70" y="297.62" width="21.16" height="10.24" fill="#2166ac"/>
<rect x="417.86" y="297.62" width="21.16" height="10.24" fill="#f5fac5"/>
<rect x="438.02" y="297.62" width="21.16" height="10.24" fill="#2166ac"/>
<rect x="458.18" y="297.62" width="21.16" height="10.24" fill="#11226b"/>
<rect x="478.34" y="297.62" width="20.16" height="10.24" fill="#2166ac"/>
<rect x="397.70" y="306.86" width="21.16" height="10.24" fill="#253494"/>
<rect x="417.86" y="306.86" width="21.16" height="10.24" fill="#5ec0c0"/>
<rect x="438.02" y="306.86" width="21.16" height="10.24" fill="#253494"/>
<rect x="458.18" y="306.86" width="21.16" height="10.24" fill="#0d1e60"/>
<rect x="478.34" y="306.86" width="20.16" height="10.24" fill="#253494"/>
<rect x="397.70" y="316.11" width="21.16" height="10.24" fill="#28369a"/>
<rect x="417.86" y="316.11" width="21.16" height="10.24" fill="#1f8bc0"/>
<rect x="438.02" y="316.11" width="21.16" height="10.24" fill="#28369a"/>
<rect x="458.18" y="316.11" width="21.16" height="10.24" fill="#10226a"/>
<rect x="478.34" y="316.11" width="20.16" height="10.24" fill="#28369a"/>
<rect x="397.70" y="325.35" width="21.16" height="10.24" fill="#2548a0"/>
<rect x="417.86" y="325.35" width="21.16" height="10.24" fill="#2548a0"/>
<rect x="438.02" y="325.35" width="21.16" height="10.24" fill="#2548a0"/>
<rect x="458.18" y="325.35" width="21.16" height="10.24" fill="#0f2068"/>
<rect x="478.34" y="325.35" width="20.16" height="10.24" fill="#2548a0"/>
<rect x="397.70" y="334.59" width="21.16" height="10.24" fill="#2548a0"/>
<rect x="417.86" y="334.59" width="21.16" height="10.24" fill="#2548a0"/>
<rect x="438.02" y="334.59" width="21.16" height="10.24" fill="#2548a0"/>
<rect x="458.18" y="334.59" width="21.16" height="10.24" fill="#0b1c5a"/>
<rect x="478.34" y="334.59" width="20.16" height="10.24" fill="#2548a0"/>
<rect x="397.70" y="343.83" width="21.16" height="10.24" fill="#2162aa"/>
<rect x="417.86" y="343.83" width="21.16" height="10.24" fill="#2162aa"/>
<rect x="438.02" y="343.83" width="21.16" height="10.24" fill="#2162aa"/>
<rect x="458.18" y="343.83" width="21.16" height="10.24" fill="#0f2068"/>
<rect x="478.34" y="343.83" width="20.16" height="10.24" fill="#2162aa"/>
<rect x="397.70" y="353.07" width="21.16" height="10.24" fill="#1d2e88"/>
<rect x="417.86" y="353.07" width="21.16" height="10.24" fill="#1d2e88"/>
<rect x="438.02" y="353.07" width="21.16" height="10.24" fill="#1d2e88"/>
<rect x="458.18" y="353.07" width="21.16" height="10.24" fill="#0f2068"/>
<rect x="478.34" y="353.07" width="20.16" height="10.24" fill="#1d2e88"/>
<rect x="397.70" y="362.32" width="21.16" height="10.24" fill="#6cc7be"/>
<rect x="417.86" y="362.32" width="21.16" height="10.24" fill="#6cc7be"/>
<rect x="438.02" y="362.32" width="21.16" height="10.24" fill="#6cc7be"/>
<rect x="458.18" y="362.32" width="21.16" height="10.24" fill="#2540a0"/>
<rect x="478.34" y="362.32" width="20.16" height="10.24" fill="#6cc7be"/>
<rect x="397.70" y="371.56" width="21.16" height="9.24" fill="#2167ae"/>
<rect x="417.86" y="371.56" width="21.16" height="9.24" fill="#2167ae"/>
<rect x="438.02" y="371.56" width="21.16" height="9.24" fill="#2167ae"/>
<rect x="458.18" y="371.56" width="21.16" height="9.24" fill="#2a3b9e"/>
<rect x="478.34" y="371.56" width="20.16" height="9.24" fill="#2167ae"/>
<line x1="407.78" y1="202.60" x2="407.78" y2="205.20" stroke="#333" stroke-width="0.40"/>
<line x1="427.94" y1="202.60" x2="427.94" y2="205.20" stroke="#333" stroke-width="0.40"/>
<line x1="448.10" y1="202.60" x2="448.10" y2="205.20" stroke="#333" stroke-width="0.40"/>
<line x1="468.26" y1="202.60" x2="468.26" y2="205.20" stroke="#333" stroke-width="0.40"/>
<line x1="488.42" y1="202.60" x2="488.42" y2="205.20" stroke="#333" stroke-width="0.40"/>
<line x1="498.50" y1="209.82" x2="499.30" y2="209.82" stroke="#333" stroke-width="0.30"/>
<text x="499.3" y="212.82" font-size="5.55" fill="#1a1a1a" stroke="#1a1a1a" stroke-width="0.1" xml:space="preserve">AR1Y2_0317 Myo-inositol 2-dehydrogenase 1</text>
<line x1="498.50" y1="219.06" x2="499.30" y2="219.06" stroke="#333" stroke-width="0.30"/>
<text x="499.3" y="222.06" font-size="5.55" fill="#1a1a1a" stroke="#1a1a1a" stroke-width="0.1" xml:space="preserve">AR1Y2_0342 Myo-inositol 2-dehydrogenase</text>
<line x1="498.50" y1="228.31" x2="499.30" y2="228.31" stroke="#333" stroke-width="0.30"/>
<text x="499.3" y="231.31" font-size="5.55" fill="#1a1a1a" stroke="#1a1a1a" stroke-width="0.1" xml:space="preserve">AR1Y2_0345 Inosose dehydratase</text>
<line x1="498.50" y1="237.55" x2="499.30" y2="237.55" stroke="#333" stroke-width="0.30"/>
<text x="499.3" y="240.55" font-size="5.55" fill="#1a1a1a" stroke="#1a1a1a" stroke-width="0.1" xml:space="preserve">AR1Y2_1104 5-keto-2-deoxygluconokinase</text>
<line x1="498.50" y1="246.79" x2="499.30" y2="246.79" stroke="#333" stroke-width="0.30"/>
<text x="499.3" y="249.79" font-size="5.55" fill="#1a1a1a" stroke="#1a1a1a" stroke-width="0.1" xml:space="preserve">AR1Y2_1105 Epi-inositol hydrolase</text>
<line x1="498.50" y1="256.03" x2="499.30" y2="256.03" stroke="#333" stroke-width="0.30"/>
<text x="499.3" y="259.03" font-size="5.55" fill="#1a1a1a" stroke="#1a1a1a" stroke-width="0.1" xml:space="preserve">AR1Y2_1106 5-deoxy-glucuronate isomerase</text>
<line x1="498.50" y1="265.27" x2="499.30" y2="265.27" stroke="#333" stroke-width="0.30"/>
<text x="499.3" y="268.27" font-size="5.55" fill="#1a1a1a" stroke="#1a1a1a" stroke-width="0.1" xml:space="preserve">AR1Y2_1054 5-keto-2-deoxy-D-gluconate-6 phosphate aldolase</text>
<line x1="498.50" y1="274.52" x2="499.30" y2="274.52" stroke="#333" stroke-width="0.30"/>
<text x="499.3" y="277.52" font-size="5.55" fill="#1a1a1a" stroke="#1a1a1a" stroke-width="0.1" xml:space="preserve">AR1Y2_1050 Acyl dehydrogenase</text>
<line x1="498.50" y1="283.76" x2="499.30" y2="283.76" stroke="#333" stroke-width="0.30"/>
<text x="499.3" y="286.76" font-size="5.55" fill="#1a1a1a" stroke="#1a1a1a" stroke-width="0.1" xml:space="preserve">AR1Y2_1051 Electron transfer flavoprotein, beta subunit</text>
<line x1="498.50" y1="293.00" x2="499.30" y2="293.00" stroke="#333" stroke-width="0.30"/>
<text x="499.3" y="296.00" font-size="5.55" fill="#1a1a1a" stroke="#1a1a1a" stroke-width="0.1" xml:space="preserve">AR1Y2_1052 Electron transfer flavoprotein, alpha subunit</text>
<line x1="498.50" y1="302.24" x2="499.30" y2="302.24" stroke="#333" stroke-width="0.30"/>
<text x="499.3" y="305.24" font-size="5.55" fill="#1a1a1a" stroke="#1a1a1a" stroke-width="0.1" xml:space="preserve">AR1Y2_1115 3-oxoacid CoA transferase</text>
<line x1="498.50" y1="311.48" x2="499.30" y2="311.48" stroke="#333" stroke-width="0.30"/>
<text x="499.3" y="314.48" font-size="5.55" fill="#1a1a1a" stroke="#1a1a1a" stroke-width="0.1" xml:space="preserve">AR1Y2_1116 Enoyl-CoA dehydratase</text>
<line x1="498.50" y1="320.73" x2="499.30" y2="320.73" stroke="#333" stroke-width="0.30"/>
<text x="499.3" y="323.73" font-size="5.55" fill="#1a1a1a" stroke="#1a1a1a" stroke-width="0.1" xml:space="preserve">AR1Y2_1117 Acyl dehydrogenase</text>
<line x1="498.50" y1="329.97" x2="499.30" y2="329.97" stroke="#333" stroke-width="0.30"/>
<text x="499.3" y="332.97" font-size="5.55" fill="#1a1a1a" stroke="#1a1a1a" stroke-width="0.1" xml:space="preserve">AR1Y2_3042  Pyruvate-flavodoxin oxidoreductase</text>
<line x1="498.50" y1="339.21" x2="499.30" y2="339.21" stroke="#333" stroke-width="0.30"/>
<text x="499.3" y="342.21" font-size="5.55" fill="#1a1a1a" stroke="#1a1a1a" stroke-width="0.1" xml:space="preserve">AR1Y2_1334 NAD-dependent glyceraldehyde-3-phosphate dehydrogenase</text>
<line x1="498.50" y1="348.45" x2="499.30" y2="348.45" stroke="#333" stroke-width="0.30"/>
<text x="499.3" y="351.45" font-size="5.55" fill="#1a1a1a" stroke="#1a1a1a" stroke-width="0.1" xml:space="preserve">AR1Y2_1335 Phosphoglycerate kinase</text>
<line x1="498.50" y1="357.69" x2="499.30" y2="357.69" stroke="#333" stroke-width="0.30"/>
<text x="499.3" y="360.69" font-size="5.55" fill="#1a1a1a" stroke="#1a1a1a" stroke-width="0.1" xml:space="preserve">AR1Y2_1336 Glyceraldehyde-3-phospahte ketol-isomerase</text>
<line x1="498.50" y1="366.94" x2="499.30" y2="366.94" stroke="#333" stroke-width="0.30"/>
<text x="499.3" y="369.94" font-size="5.55" fill="#1a1a1a" stroke="#1a1a1a" stroke-width="0.1" xml:space="preserve">AR1Y2_0899 Phosphoglycerate mutase family</text>
<line x1="498.50" y1="376.18" x2="499.30" y2="376.18" stroke="#333" stroke-width="0.30"/>
<text x="499.3" y="379.18" font-size="5.55" fill="#1a1a1a" stroke="#1a1a1a" stroke-width="0.1" xml:space="preserve">AR1Y2_0982 Enolase</text>
<text x="0" y="0" font-size="5.0" fill="#111" stroke="#111" stroke-width="0.1" transform="translate(409.68 201) rotate(-55)"><tspan font-style="italic">A. hadrus</tspan> SSC/2</text>
<text x="0" y="0" font-size="5.0" fill="#111" stroke="#111" stroke-width="0.1" transform="translate(429.84 201) rotate(-55)"><tspan font-style="italic">A. hadrus</tspan> DSM3319</text>
<text x="0" y="0" font-size="5.0" fill="#111" stroke="#111" stroke-width="0.1" transform="translate(450.00 201) rotate(-55)"><tspan font-style="italic">A. hadrus</tspan> PEL85</text>
<text x="0" y="0" font-size="5.0" fill="#111" stroke="#111" stroke-width="0.1" transform="translate(470.16 201) rotate(-55)"><tspan font-style="italic">A. caccae</tspan> DSM 14662</text>
<text x="0" y="0" font-size="5.0" fill="#111" stroke="#111" stroke-width="0.1" transform="translate(490.32 201) rotate(-55)"><tspan font-style="italic">A. hadrus</tspan> BPB5</text></svg>
</body></html>
